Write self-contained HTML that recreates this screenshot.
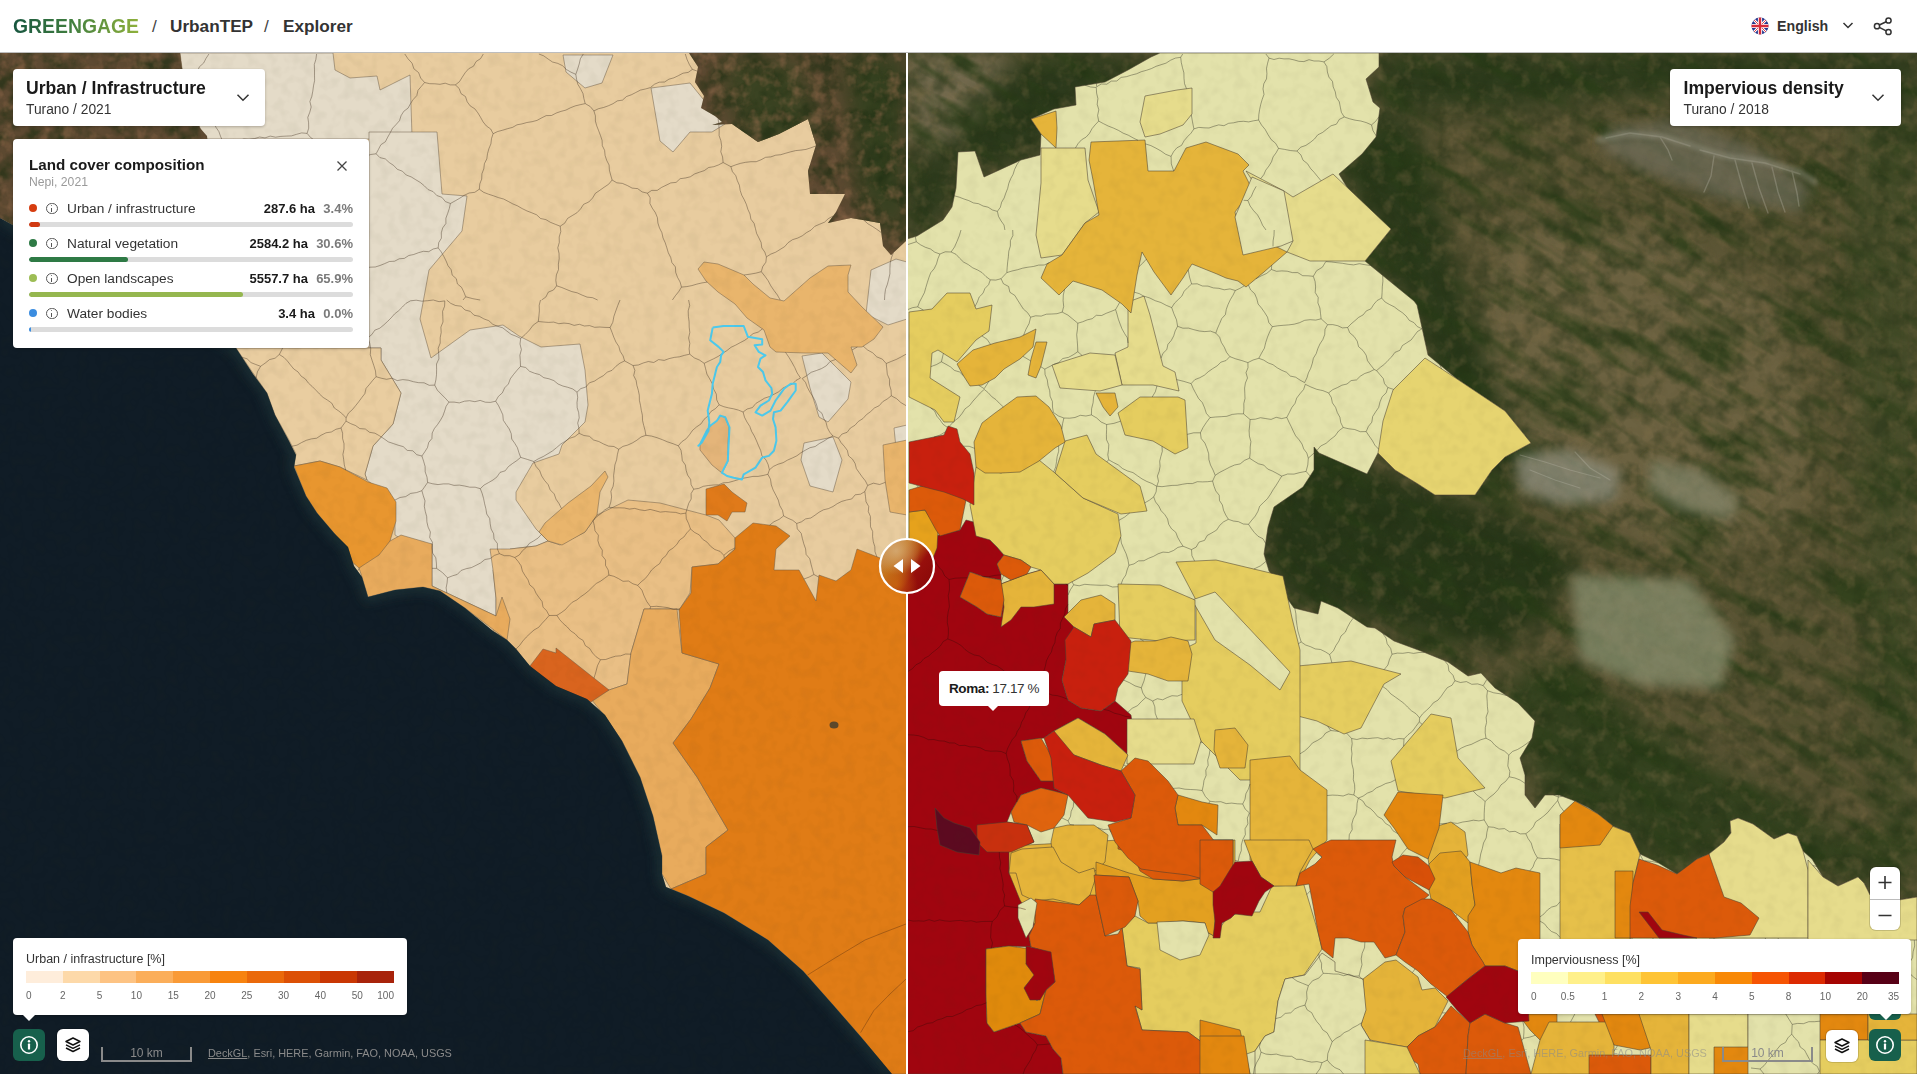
<!DOCTYPE html>
<html><head><meta charset="utf-8"><title>GREENGAGE UrbanTEP Explorer</title>
<style>
*{box-sizing:border-box}
html,body{margin:0;padding:0}
body{width:1917px;height:1074px;overflow:hidden;position:relative;font-family:"Liberation Sans",Arial,sans-serif;color:#1d1d1d;background:#fff}
#map{position:absolute;left:0;top:0}
.hdr{position:absolute;left:0;top:0;width:1917px;height:53px;background:#fff;border-bottom:1px solid #bdbdbd}
.brand{position:absolute;top:16px;left:13px;font-size:19.4px;font-weight:700;letter-spacing:0;white-space:nowrap;line-height:20px}
.brand .g{background:linear-gradient(90deg,#17553f 0%,#3f7d3f 45%,#8fb13c 100%);-webkit-background-clip:text;background-clip:text;color:transparent}
.crumb{position:absolute;top:16px;font-size:17.2px;font-weight:700;color:#333;line-height:20px;white-space:nowrap}
.card{position:absolute;background:#fff;border-radius:4px;box-shadow:0 1px 3px rgba(0,0,0,.25)}
.ttl{position:absolute;font-weight:700;white-space:nowrap;color:#1a1a1a}
.sub{position:absolute;white-space:nowrap;color:#333}
.chev{position:absolute}

.row{position:absolute;left:0;width:356px;height:35px}
.row .dot{position:absolute;left:16px;top:7px;width:8px;height:8px;border-radius:50%}
.row .inf{position:absolute;left:33px;top:5.5px;width:11.5px;height:11.5px;border:1.1px solid #555;border-radius:50%}
.row .inf:before{content:"";position:absolute;left:4.1px;top:1.6px;width:1.3px;height:1.3px;background:#555;border-radius:50%}
.row .inf:after{content:"";position:absolute;left:4.1px;top:4px;width:1.3px;height:4px;background:#555}
.row .lbl{position:absolute;left:54px;top:4px;font-size:13.7px;color:#333;white-space:nowrap}
.row .val{position:absolute;top:4px;font-size:13px;font-weight:700;color:#1a1a1a;white-space:nowrap}
.row .pct{position:absolute;right:16px;top:4px;font-size:13px;font-weight:700;color:#7a7a7a;white-space:nowrap}
.row .bar{position:absolute;left:16px;top:25px;width:324px;height:4.5px;border-radius:3px;background:#dcdcdc;overflow:hidden}
.row .bar b{position:absolute;left:0;top:0;height:100%;border-radius:3px}
.legend .lt{position:absolute;left:13px;top:14px;font-size:12.5px;color:#333;white-space:nowrap}
.legend .lbar{position:absolute;left:13px;top:33px;width:368px;height:12.4px;display:flex}
.legend .lbar i{flex:1;height:100%}
.legend .ll{position:absolute;left:13px;top:52px;width:368px;height:12px;font-size:10px;color:#666}
.legend .ll span{position:absolute;top:0;white-space:nowrap}
.tail{position:absolute;width:0;height:0;border-left:7px solid transparent;border-right:7px solid transparent;border-top:7px solid #fff}
.btn{position:absolute;width:32px;height:32px;border-radius:6px}
.btn svg{position:absolute;left:0;top:0}
.btn.green{background:#17604c}
.btn.white{background:#fff;box-shadow:0 0 0 1px rgba(0,0,0,.12)}
.zoom{position:absolute;width:30px;height:63px;background:#fff;border-radius:6px;box-shadow:0 0 0 1px rgba(0,0,0,.15);overflow:hidden}
.zoom .zb{position:relative;width:30px;height:31.5px}
.scale{position:absolute;height:15px;border:2px solid #8a8a8a;border-top:none}
.scale span{position:absolute;left:0;right:0;top:0;text-align:center;font-size:12px;color:#8a8a8a;line-height:13px}
.attr{position:absolute;font-size:10.9px;color:#8a8a8a;white-space:nowrap;line-height:13px}
.handle{position:absolute;left:878px;top:537px;width:58px;height:58px}
.tip{position:absolute;width:110px;height:34.5px;background:#fff;border-radius:4px;font-size:13.5px;color:#333;padding:9.5px 0 0 10px;letter-spacing:-0.4px;white-space:nowrap}
.tip b{color:#1a1a1a}
.tip:after{content:"";position:absolute;left:48px;top:34px;border-left:6px solid transparent;border-right:6px solid transparent;border-top:6px solid #fff}
</style></head>
<body>
<svg id="map" width="1917" height="1074" viewBox="0 0 1917 1074">
<defs>
 <filter id="mottD" x="0" y="0" width="1" height="1" color-interpolation-filters="sRGB">
  <feTurbulence type="fractalNoise" baseFrequency="0.055" numOctaves="3" seed="11"/>
  <feColorMatrix type="matrix" values="0 0 0 0 0.13  0 0 0 0 0.19  0 0 0 0 0.08  2.6 0 0 0 -1.05"/>
 </filter>
 <filter id="mottL" x="0" y="0" width="1" height="1" color-interpolation-filters="sRGB">
  <feTurbulence type="fractalNoise" baseFrequency="0.07" numOctaves="3" seed="29"/>
  <feColorMatrix type="matrix" values="0 0 0 0 0.50  0 0 0 0 0.43  0 0 0 0 0.28  2.6 0 0 0 -1.3"/>
 </filter>
 <filter id="blur12" x="-20%" y="-20%" width="140%" height="140%" color-interpolation-filters="sRGB"><feGaussianBlur stdDeviation="12"/></filter>
 <filter id="blur6" x="-20%" y="-20%" width="140%" height="140%"><feGaussianBlur stdDeviation="6"/></filter>

 <clipPath id="cl"><rect x="0" y="53" width="907" height="1021"/></clipPath>
 <clipPath id="cr"><rect x="907" y="53" width="1010" height="1021"/></clipPath>

 <filter id="streak" x="0" y="0" width="1" height="1" color-interpolation-filters="sRGB">
  <feTurbulence type="fractalNoise" baseFrequency="0.012 0.05" numOctaves="3" seed="4"/>
  <feColorMatrix type="matrix" values="0 0 0 0 0.16  0 0 0 0 0.24  0 0 0 0 0.09  3.2 0 0 0 -1.45"/>
 </filter>
 <filter id="rock" x="-30%" y="-30%" width="160%" height="160%" color-interpolation-filters="sRGB">
  <feTurbulence type="fractalNoise" baseFrequency="0.09" numOctaves="2" seed="9" result="n"/>
  <feColorMatrix in="n" type="matrix" values="0 0 0 0 0.80  0 0 0 0 0.79  0 0 0 0 0.72  3 0 0 0 -1.2" result="c"/>
  <feComposite in="c" in2="SourceAlpha" operator="in" result="m"/>
  <feGaussianBlur in="m" stdDeviation="0.6"/>
 </filter>

 <filter id="blur2" x="-20%" y="-20%" width="140%" height="140%"><feGaussianBlur stdDeviation="2"/></filter>

 <filter id="blur07" x="-20%" y="-20%" width="140%" height="140%"><feGaussianBlur stdDeviation="0.7"/></filter>

 <filter id="grain" x="0" y="0" width="1" height="1" color-interpolation-filters="sRGB">
  <feTurbulence type="fractalNoise" baseFrequency="0.09" numOctaves="2" seed="3"/>
  <feColorMatrix type="matrix" values="0 0 0 0 0.25  0 0 0 0 0.22  0 0 0 0 0.12  2.2 0 0 0 -0.95"/>
 </filter>

 <filter id="mottB" x="0" y="0" width="1" height="1" color-interpolation-filters="sRGB">
  <feTurbulence type="fractalNoise" baseFrequency="0.08" numOctaves="3" seed="41"/>
  <feColorMatrix type="matrix" values="0 0 0 0 0.58  0 0 0 0 0.42  0 0 0 0 0.30  2.6 0 0 0 -1.2"/>
 </filter>
</defs>
<g id="left" clip-path="url(#cl)">

 <rect x="0" y="53" width="907" height="1021" fill="#e8cc9f"/>
 <g stroke="#6b5a45" stroke-opacity="0.55" stroke-width="0.9" stroke-linejoin="round">
 <!-- light beige regions -->
 <polygon fill="#e4dbc8" points="180,53 333,53 335,70 350,78 377,76 380,90 410,75 412,136 369,139 205,139 200,128 182,68"/>
 <polygon fill="#e4dbc8" points="369,132 437,132 442,194 467,196 462,231 429,270 420,319 431,358 470,330 503,325 519,336 541,347 580,344 585,370 588,405 585,422 562,445 559,454 533,463 516,492 516,500 536,529 548,541 536,546 510,549 493,570 496,598 496,616 432,586 432,544 418,549 395,535 395,502 367,480 365,474 373,446 393,424 401,393 381,360 381,348 369,348"/>
 <polygon fill="#e4dbc8" points="563,55 613,55 602,83 585,88 566,72"/>
 <polygon fill="#e4dbc8" points="651,88 690,83 712,110 725,124 712,132 690,132 673,152 660,141"/>
 <polygon fill="#e4dbc8" points="802,356 822,353 851,382 848,399 828,422 819,417 810,388"/>
 <polygon fill="#e4dbc8" points="804,443 833,437 842,460 833,492 810,486 801,460"/>
 <polygon fill="#e4dbc8" points="871,270 896,259 907,262 907,319 888,325 866,314"/>
 <polygon fill="#e4dbc8" points="894,428 907,425 907,452 896,448"/>
 <!-- medium tan -->
 <polygon fill="#e9bf85" points="490,549 510,549 536,546 548,541 560,545 585,532 597,515 628,500 660,503 706,515 719,520 735,538 735,549 718,564 692,567 690,593 679,610 677,609 644,609 631,653 627,684 609,690 591,699 587,699 556,686 529,666 516,649 507,640 493,631 496,616 496,598 493,570"/>
 <polygon fill="#e9cda0" points="236,348 381,348 381,360 401,393 393,424 373,446 365,474 367,480 340,467 320,461 294,466 296,454 289,440 275,415 267,393 253,373"/>
 <!-- medium orange-tan -->
 <polygon fill="#e9b56c" points="698,269 704,262 718,264 744,275 753,284 770,298 784,301 810,278 828,266 851,265 848,275 848,292 862,307 883,327 874,339 862,347 851,347 857,365 851,373 828,353 805,353 776,352 770,347 764,330 747,318 735,304 718,292 706,281"/>
 <polygon fill="#e9b56c" points="545,523 568,503 591,486 605,471 608,477 600,492 597,515 585,532 562,545 548,541 539,532"/>
 <polygon fill="#e9b56c" points="883,445 907,440 907,515 890,512 885,480"/>
 <polygon fill="#e8ab5d" points="644,609 677,609 682,653 719,664 710,688 691,719 673,743 697,777 728,830 706,847 706,874 671,889 662,874 662,856 653,816 640,777 622,741 604,715 591,699 609,690 627,684 631,653"/>
 <polygon fill="#e8ab5d" points="359,568 390,541 401,535 432,544 432,586 496,616 502,597 510,619 507,640 465,608 440,591 423,587 395,590 368,597 362,577"/>
 <!-- orange -->
 <polygon fill="#e8962f" points="294,466 320,461 340,467 368,482 387,488 396,502 396,521 390,541 379,555 359,568 351,561 334,533 317,513 306,496"/>
 <polygon fill="#e07a1a" points="706,489 724,484 732,492 747,503 745,512 732,512 727,521 718,515 706,515"/>
 <polygon fill="#d9641e" points="530,666 543,649 556,653 556,648 609,690 591,702 569,695 532,671"/>
 <polygon fill="#e07c16" points="679,610 691,593 692,567 718,564 735,549 735,538 753,523 776,526 790,536 776,549 774,570 799,570 816,601 819,575 836,581 851,570 857,549 888,561 907,558 907,1074 891,1074 861,1037 834,1006 803,971 768,940 724,913 688,896 671,889 706,874 706,847 728,830 697,777 673,743 691,719 710,688 719,664 682,653"/>
 <polygon fill="#e4b57a" points="700,444 710,426 717,421 720,416 725,417 729,427 728,444 728,461 722,473 712,465 700,450"/>
 </g>
 <ellipse cx="834" cy="725" rx="4.5" ry="3.5" fill="#3a3a30" opacity="0.8"/>
 <!-- satellite patches -->
 <clipPath id="lsc"><polygon points="0,53 180,53 182,68 190,100 200,128 207,136 215,200 225,280 236,348 0,218"/><polygon points="689,53 698,67 695,82 704,96 701,108 715,116 722,122 712,125 732,124 758,142 779,134 808,119 816,145 808,171 810,194 845,194 836,212 828,223 851,218 880,223 883,246 891,255 906,241 907,240 907,53"/></clipPath>
 <g clip-path="url(#lsc)">
  <rect x="0" y="53" width="907" height="300" fill="#5e4a32"/>
  <g filter="url(#blur12)">
   <polygon fill="#34401f" points="840,53 907,53 907,250 860,200 850,120"/>
   <polygon fill="#3a4322" points="720,60 800,60 820,140 760,150 730,110"/>
  </g>
  <rect x="0" y="53" width="907" height="300" filter="url(#mottD)" opacity="0.7"/>
  <rect x="0" y="53" width="907" height="300" filter="url(#mottB)" opacity="0.55"/>
 </g>
 <!-- sea -->
 <polygon fill="#101c26" points="0,218 236,348 253,374 267,393 275,415 289,441 296,455 294,467 306,496 317,513 334,533 348,547 354,566 362,577 368,597 395,590 423,587 440,591 465,608 493,631 507,640 516,649 530,666 556,686 587,699 605,715 622,741 640,777 653,816 662,856 662,874 666,887 688,896 724,913 768,940 803,971 834,1006 861,1037 892,1074 0,1074"/>
 <clipPath id="seac"><polygon points="0,218 236,348 253,374 267,393 275,415 289,441 296,455 294,467 306,496 317,513 334,533 348,547 354,566 362,577 368,597 395,590 423,587 440,591 465,608 493,631 507,640 516,649 530,666 556,686 587,699 605,715 622,741 640,777 653,816 662,856 662,874 666,887 688,896 724,913 768,940 803,971 834,1006 861,1037 892,1074 0,1074"/></clipPath>
 <g clip-path="url(#seac)"><polyline points="0,218 236,348 253,374 267,393 275,415 289,441 296,455 294,467 306,496 317,513 334,533 348,547 354,566 362,577 368,597 395,590 423,587 440,591 465,608 493,631 507,640 516,649 530,666 556,686 587,699 605,715 622,741 640,777 653,816 662,856 662,874 666,887 688,896 724,913 768,940 803,971 834,1006 861,1037 892,1074" fill="none" stroke="#2b4a47" stroke-width="9" opacity="0.55" filter="url(#blur6)"/></g>
 <path d="M692.4 69.4 L688.2 72.4 L683.0 73.2 L678.5 75.6 L673.9 77.8 L668.9 79.2 L664.6 82.0 L659.2 82.2 L654.5 84.2 L650.4 87.6 L645.4 89.0 L640.4 90.1 L635.8 92.5 L631.3 94.8 L626.5 96.5 L622.5 100.1 L617.3 100.9 L613.0 103.7 L608.3 105.8 L603.5 107.5 L598.5 108.7 L593.9 110.9 M692.4 69.4 L689.4 64.6 L687.0 59.4 L685.3 54.0 M583.3 54.0 L580.4 58.7 L579.2 64.0 L577.6 69.2 L575.8 74.3 M575.8 74.3 L576.6 79.4 L577.9 84.4 L580.6 88.9 L583.0 93.6 L583.9 98.6 L585.2 103.6 M593.9 110.9 L590.2 106.5 L585.2 103.6 M538.9 54.0 L543.8 55.9 L548.2 59.1 L552.5 62.0 L557.8 63.4 L562.5 65.7 L566.4 69.5 L571.0 72.2 L575.8 74.3 M761.3 271.7 L764.9 276.2 L768.2 280.8 L770.8 285.8 L774.0 290.5 L777.4 295.0 L780.2 300.0 M761.3 271.7 L755.7 273.2 L749.9 274.2 L744.0 275.0 M707.2 282.1 L702.0 282.9 L696.9 284.1 L691.9 285.6 L686.7 286.6 L681.5 287.1 M681.5 287.1 L678.7 291.6 L675.4 295.7 L672.4 300.0 M881.2 232.5 L876.9 229.4 L872.5 226.5 L867.9 223.8 L863.9 220.2 M893.3 252.8 L891.4 257.9 L890.2 263.1 L889.9 268.5 L889.9 273.9 L888.7 279.1 L887.4 284.3 L885.5 289.3 L884.8 294.6 L884.5 300.0 M761.3 271.7 L762.7 266.7 L765.9 262.2 L766.4 256.9 M766.4 256.9 L770.8 254.1 L775.7 252.2 L780.2 249.4 L784.6 246.7 L788.2 242.6 L792.5 239.7 L797.6 238.1 L802.3 235.8 L806.5 232.6 L811.0 230.1 L814.8 226.3 L819.7 224.2 L824.5 222.2 L828.4 218.6 L833.0 216.1 M226.3 287.9 L229.3 282.9 L231.2 277.5 L231.6 271.5 L235.4 266.7 L236.8 261.1 L238.7 255.7 M238.7 255.7 L235.8 251.2 L233.9 246.3 L232.6 241.1 L231.0 236.1 L229.3 231.1 L227.3 226.2 L224.1 221.8 L223.3 216.5 L221.7 211.4 L217.6 207.4 L217.1 201.9 L214.7 197.2 M230.5 300.0 L229.4 294.0 L226.4 288.7 M612.1 180.0 L616.8 182.8 L622.4 183.4 L627.3 185.5 L632.1 188.1 L637.6 188.6 L642.1 191.9 L647.4 193.2 M612.1 180.0 L610.7 175.1 L609.4 170.2 L609.1 165.0 L606.7 160.4 L605.1 155.5 L604.6 150.3 L602.3 145.7 L602.1 140.4 L600.5 135.6 L598.7 130.8 L596.8 126.0 L595.4 121.1 L595.4 115.8 L593.9 110.9 M647.4 193.2 L651.7 190.4 L657.2 190.4 L661.6 187.4 L666.2 185.2 L670.8 182.9 L676.1 182.4 L680.1 178.7 L685.3 178.0 L690.3 176.8 L694.7 173.9 L699.5 172.2 L704.3 170.6 L708.6 167.5 L713.8 166.7 L718.6 164.9 L723.1 162.5 M692.4 69.4 L697.2 71.1 M723.1 162.5 L722.6 157.0 L720.8 151.8 L721.7 146.2 L720.9 140.8 L719.1 135.6 L719.2 130.1 L718.8 124.7 M718.6 123.0 L718.1 118.7 M647.4 193.2 L650.2 197.8 L649.9 203.5 L652.3 208.2 L655.4 212.7 L657.4 217.6 L657.9 223.0 L659.5 228.0 L661.9 232.7 L663.0 237.9 L665.2 242.7 L666.8 247.7 L668.3 252.8 L670.7 257.4 L671.9 262.6 L675.4 266.9 L675.7 272.4 L677.5 277.3 L680.1 282.0 L681.5 287.1 M766.4 256.9 L764.8 252.1 L761.8 247.8 L761.1 242.5 L758.9 237.9 L756.6 233.4 L755.4 228.4 L754.1 223.4 L750.9 219.2 L750.0 214.0 L747.9 209.4 L746.4 204.5 L744.3 199.8 L741.8 195.3 L740.2 190.5 L739.4 185.3 L737.3 180.6 L735.8 175.7 L732.4 171.6 L730.9 166.7 M723.1 162.5 L730.9 166.7 M730.9 166.7 L735.8 164.8 L740.7 163.3 L745.7 162.3 L750.9 161.7 L756.2 161.7 L761.0 159.8 L765.6 157.3 L770.8 156.9 L775.7 155.2 L780.8 154.7 L785.8 153.2 L790.7 151.8 L795.7 150.6 L800.9 150.1 L806.0 149.4 L810.9 147.8 L815.7 146.0 M326.0 231.5 L327.3 226.5 L327.4 221.2 L329.4 216.3 L330.0 211.1 L329.7 205.8 L331.0 200.7 L332.5 195.7 L333.1 190.5 L333.4 185.3 L333.9 180.0 L335.0 175.0 L335.7 169.8 L338.4 165.0 L338.6 159.7 M326.0 231.5 L321.2 233.2 L316.2 233.8 L311.3 235.0 L306.4 236.2 L301.8 238.6 L296.9 239.7 L292.2 241.3 L287.3 242.6 L282.3 243.5 L277.6 245.3 L272.5 245.6 L268.0 248.4 L262.6 247.9 L257.9 249.6 L253.2 251.5 L248.6 253.9 L243.7 254.9 L238.7 255.7 M338.6 159.7 L334.3 156.9 L330.5 153.4 L326.1 150.7 L323.3 146.0 L319.5 142.5 L314.6 140.4 L310.5 137.4 L307.1 133.4 M210.6 164.9 L212.0 159.7 L214.8 155.2 L218.4 151.1 L221.0 146.6 L222.8 141.5 M307.1 133.4 L301.7 132.9 L296.6 134.3 L291.4 135.9 L286.1 136.1 L280.8 136.4 L275.6 137.2 L270.2 136.1 L265.0 137.9 L259.6 137.0 L254.5 138.6 L249.2 139.3 L243.9 138.9 L238.7 140.7 L233.3 139.5 L228.2 142.1 L222.8 141.5 M184.7 79.0 L191.2 80.2 M222.8 141.5 L220.7 136.7 L218.9 131.6 L215.9 127.2 L213.7 122.4 L210.5 118.1 L208.2 113.3 L205.6 108.6 L204.0 103.5 L201.5 98.8 L198.0 94.6 L195.9 89.7 L193.6 85.0 L191.2 80.2 M483.3 54.0 L480.6 58.6 L476.1 61.5 L473.5 66.2 L468.6 68.8 L465.2 72.7 L462.3 77.1 L459.5 81.6 L455.4 84.9 M585.2 103.6 L580.2 104.7 L575.2 105.9 L570.4 107.8 L565.9 110.1 L560.9 111.4 L556.1 113.1 L551.5 115.5 L546.2 115.6 L541.6 117.9 L537.0 120.4 L532.1 121.7 L526.9 122.5 L522.0 123.9 L517.0 124.8 L512.5 127.4 L507.5 128.7 L502.7 130.2 L497.7 131.5 L493.1 133.7 M455.4 84.9 L459.2 88.5 L461.0 93.6 L465.5 96.6 L467.2 101.8 L470.2 105.9 L474.8 108.8 L477.9 112.9 L480.6 117.4 L483.1 121.9 L486.3 125.9 L490.7 129.0 L493.1 133.7 M404.8 54.0 L408.0 58.8 L412.0 63.1 L413.9 68.8 L418.6 72.6 L420.7 78.1 L424.6 82.5 M455.4 84.9 L450.2 84.9 L445.2 83.2 L440.0 84.3 L434.8 83.8 L429.7 83.7 L424.6 82.5 M338.6 159.7 L344.0 158.8 L349.4 158.7 L354.6 156.8 L359.8 155.3 L365.5 156.5 L370.7 154.5 L376.1 153.8 M316.6 54.0 L315.9 59.3 L314.3 64.5 L314.5 69.8 L314.5 75.2 L314.6 80.6 L313.5 85.8 L312.8 91.1 L311.8 96.4 L309.9 101.5 L311.2 107.0 L309.8 112.2 L307.8 117.4 L308.6 122.8 L308.7 128.2 L307.1 133.4 M424.6 82.5 L421.3 86.4 L418.0 90.3 L416.8 95.6 L413.3 99.4 L410.5 103.6 L408.1 108.1 L403.8 111.3 L401.1 115.6 L399.5 120.7 L396.1 124.5 L392.6 128.2 L390.2 132.8 L387.7 137.2 L385.4 141.7 L380.8 144.8 L378.5 149.3 L376.1 153.8 M326.0 231.5 L328.5 236.6 L332.2 240.7 L335.4 245.1 L338.9 249.4 L342.6 253.6 L345.7 258.1 L349.6 262.1 L352.8 266.6 L355.4 271.5 M355.4 271.5 L355.8 277.3 L353.2 282.8 L353.9 288.6 L353.7 294.4 L352.3 300.0 M191.2 80.2 L194.2 75.9 L197.2 71.6 L199.5 66.7 L203.6 63.1 L206.0 58.4 L208.9 54.0 M465.7 296.8 L463.8 292.0 L461.6 287.4 L457.4 283.9 L456.3 278.7 L452.2 275.1 L451.2 269.8 L448.0 265.7 L446.1 261.0 L443.8 256.4 L441.3 252.0 L438.2 247.9 M465.7 296.8 L472.9 298.7 L480.2 300.0 M560.2 226.2 L560.8 231.6 L559.2 237.0 L559.3 242.4 L557.8 247.8 L559.0 253.3 L559.2 258.7 L558.4 264.1 L558.5 269.6 L556.4 274.9 L555.8 280.3 L556.6 285.8 M560.2 226.2 L555.3 224.3 L550.4 222.3 L545.9 219.6 L540.6 218.5 L536.6 214.8 L531.8 212.8 L526.9 210.9 L522.2 208.6 L517.6 205.9 L512.8 203.9 L508.2 201.4 L503.6 199.0 L498.4 197.6 L493.5 195.8 L488.5 194.2 L483.6 192.3 L479.3 189.2 M438.2 247.9 L438.7 242.7 L441.4 238.2 L441.3 232.8 L442.7 227.9 L445.9 223.5 L445.9 218.2 L447.7 213.4 L449.3 208.5 L450.4 203.5 M556.6 285.8 L553.5 290.0 L548.3 292.1 L545.9 297.0 L541.6 300.0 M479.3 189.2 L474.8 192.3 L469.1 193.0 L464.3 195.3 L459.8 198.2 L455.1 200.9 L450.4 203.5 M355.4 271.5 L360.0 269.2 L365.0 268.2 L370.0 267.2 L375.2 267.0 L380.0 265.5 L384.7 263.6 L389.4 261.5 L394.6 261.2 L399.2 258.8 L404.3 258.4 L408.8 255.5 L413.7 254.5 L418.5 252.7 L423.4 251.3 L428.7 251.7 L433.2 249.0 L438.2 247.9 M463.0 300.0 L465.7 296.8 M612.1 180.0 L608.7 184.2 L604.2 187.2 L599.8 190.3 L595.4 193.3 L592.5 198.1 L588.8 202.0 L583.6 204.3 L580.6 208.9 L576.9 212.8 L572.2 215.6 L567.6 218.4 L564.7 223.2 L560.2 226.2 M597.6 300.0 L592.6 297.7 L587.1 297.1 L582.1 295.1 L577.1 292.8 L571.8 291.6 L566.8 289.6 L561.8 287.5 L556.6 285.8 M493.1 133.7 L491.5 138.6 L490.9 143.9 L488.9 148.7 L487.5 153.7 L486.8 158.9 L484.4 163.7 L483.8 168.9 L481.9 173.8 L481.7 179.1 L479.8 183.9 L479.3 189.2 M376.1 153.8 L379.9 157.6 L385.3 158.9 L389.2 162.5 L393.6 165.4 L397.3 169.3 L402.4 171.2 L406.2 175.0 L411.2 176.9 L415.7 179.7 L420.2 182.4 L424.3 185.8 L428.1 189.6 L433.1 191.6 L436.8 195.5 L441.9 197.3 L445.4 201.6 L450.4 203.5 M444.8 300.9 L444.6 306.2 L442.6 311.3 L442.8 316.7 L443.0 322.0 L440.9 327.1 L441.2 332.5 L440.2 337.7 L440.2 343.1 L438.2 348.2 L438.7 353.6 L438.9 358.9 L436.5 364.0 L436.6 369.3 L436.5 374.7 L435.9 379.9 L434.7 385.1 M444.8 300.9 L439.0 301.7 L433.3 300.0 L427.6 300.7 L421.9 301.2 L416.2 300.2 L410.5 300.8 M410.5 300.8 L405.9 303.4 L402.3 307.1 L398.7 310.7 L394.6 313.9 L391.2 317.8 L387.6 321.4 L383.8 324.9 L379.8 328.2 L374.8 330.2 L371.8 334.6 L367.8 337.8 M367.8 337.8 L369.7 343.2 L370.7 348.8 L370.3 354.7 L372.0 360.1 L373.8 365.5 L375.5 371.0 L376.0 376.7 M376.0 376.7 L381.2 378.2 L386.5 379.3 L392.1 378.2 L397.2 380.6 L402.8 379.6 L408.2 380.2 L413.4 381.7 L418.7 382.7 L424.1 382.8 L429.2 385.3 L434.7 385.1 M446.7 300.0 L450.8 303.4 L455.5 305.5 L461.1 306.2 L465.0 310.0 L470.2 311.3 L474.0 315.2 L479.3 316.3 L483.9 318.9 L488.8 320.7 L492.8 324.3 L497.6 326.3 L502.7 327.8 L506.9 331.1 L511.1 334.3 L516.0 336.2 L520.7 338.4 M520.7 338.4 L520.0 344.0 L521.4 349.6 L519.9 355.2 L520.3 360.8 L520.5 366.4 M434.7 385.1 L437.3 390.1 L441.2 394.1 L445.1 398.0 L448.9 402.1 M448.9 402.1 L454.1 402.1 L459.3 402.9 L464.5 401.2 L469.7 400.7 L474.9 401.7 L480.1 400.4 L485.3 402.2 L490.5 402.4 L495.7 401.2 M495.7 401.2 L498.3 396.5 L502.4 392.8 L504.6 387.9 L508.4 384.0 L510.3 378.8 L513.5 374.5 L516.9 370.4 L520.5 366.4 M520.7 338.4 L525.3 334.4 L529.5 330.0 L533.2 325.1 L538.3 321.5 M540.5 300.0 L539.2 305.3 L539.4 310.8 L538.9 316.1 L538.3 321.5 M421.9 456.0 L424.8 451.8 L427.5 447.5 L428.7 442.5 L431.9 438.5 L432.2 433.0 L434.4 428.5 L437.6 424.5 L440.4 420.3 L442.9 415.9 L444.6 411.1 L446.1 406.3 L448.9 402.1 M421.9 456.0 L416.8 454.7 L412.8 450.8 L407.2 450.4 L403.2 446.6 L398.1 445.2 L393.2 443.5 L388.2 441.8 L383.9 438.7 L379.5 435.8 L374.9 433.2 L369.6 432.3 L365.3 429.0 L359.8 428.6 L355.5 425.5 L350.6 423.6 L346.0 421.1 M376.0 376.7 L372.6 380.5 L369.4 384.5 L366.1 388.3 L364.8 393.7 L361.7 397.7 L358.7 401.8 L355.5 405.8 L352.3 409.7 L348.4 413.2 L346.1 417.8 M346.0 421.1 L346.1 417.8 M549.1 615.5 L545.7 619.5 L542.1 623.3 L538.7 627.3 L534.0 630.0 L530.1 633.5 L526.3 637.1 L522.8 641.0 L519.7 645.3 L516.0 649.0 M549.1 615.5 L556.9 615.4 M594.0 678.1 L595.9 671.9 L597.5 665.6 L600.5 659.7 M600.5 659.7 L596.1 656.8 L592.6 653.0 L589.7 648.5 L585.3 645.6 L583.2 640.5 L578.6 637.7 L575.1 633.8 L570.7 630.9 L567.3 627.0 L563.3 623.6 L559.8 619.8 L556.9 615.4 M600.5 659.7 L605.7 659.5 L610.6 657.7 L615.5 656.2 L620.7 655.8 L625.6 654.0 L630.8 654.2 M480.3 488.7 L482.2 493.6 L483.6 498.6 L484.6 503.7 L485.9 508.8 L486.7 514.0 L489.7 518.5 L490.2 523.8 L491.1 529.0 L493.6 533.7 L494.0 539.0 L497.4 543.5 L497.4 548.9 L499.4 553.7 M480.3 488.7 L484.0 485.1 L488.5 482.6 L493.0 480.0 L497.0 476.9 L500.0 472.4 L505.2 470.8 L508.4 466.6 L512.5 463.5 L516.8 460.6 L520.7 457.4 M520.7 457.4 L527.3 459.4 L533.8 461.5 M533.8 461.5 L536.1 466.5 L539.7 470.7 L541.6 475.9 L544.6 480.5 L548.2 484.7 L550.2 489.9 L554.2 493.9 L556.0 499.2 L559.1 503.7 L561.5 508.7 M541.4 534.4 L538.0 538.1 L533.7 540.9 L529.3 543.4 L526.2 547.5 L522.4 550.8 L519.3 555.0 L514.8 557.5 M514.8 557.5 L509.8 555.7 L504.4 555.7 L499.4 553.7 M427.6 482.5 L432.8 483.8 L438.0 484.6 L443.4 483.9 L448.8 483.9 L454.0 485.4 L459.3 485.1 L464.6 486.0 L469.8 487.2 L475.1 487.2 L480.3 488.7 M427.6 482.5 L427.0 477.1 L425.2 471.9 L425.1 466.4 L423.6 461.2 L421.9 456.0 M495.7 401.2 L498.5 405.6 L500.7 410.2 L502.8 414.8 L503.3 420.3 L506.2 424.6 L509.2 428.9 L511.2 433.6 L511.7 439.0 L514.7 443.2 L517.4 447.7 L518.9 452.6 L520.7 457.4 M520.5 366.4 L525.7 367.5 L529.6 371.3 L534.4 373.2 L539.5 374.6 L543.8 377.7 L549.0 378.8 L553.9 380.6 L558.0 384.0 L562.8 386.0 L567.8 387.3 L572.8 389.0 L577.0 392.2 M577.0 392.2 L577.7 397.3 L577.0 402.5 L577.2 407.7 L578.7 412.7 L579.2 417.9 L577.7 423.1 L578.9 428.2 L579.1 433.3 M579.1 433.3 L574.9 436.6 L569.6 438.3 L565.2 441.3 L560.7 444.1 L556.6 447.6 L552.4 451.0 L547.8 453.8 L543.3 456.5 L538.4 458.8 L533.8 461.5 M618.7 449.3 L617.4 454.5 L616.6 459.8 L614.9 464.9 L614.3 470.3 L613.6 475.6 L613.9 481.0 L613.1 486.3 L610.9 491.3 L611.6 496.9 L610.8 502.1 L609.1 507.3 M618.7 449.3 L614.0 446.5 L608.5 446.1 L603.6 444.0 L598.8 441.5 L593.6 440.0 L589.4 436.3 L583.9 435.5 L579.1 433.3 M593.1 520.6 L596.7 516.7 L600.9 513.7 L604.6 510.0 L609.1 507.3 M549.1 615.5 L546.7 610.9 L543.0 607.1 L542.1 601.6 L538.9 597.4 L536.0 593.2 L533.9 588.4 L529.7 584.8 L528.0 579.8 L525.0 575.5 L522.4 571.1 L521.1 565.8 L518.2 561.5 L514.8 557.5 M593.1 520.6 L594.3 525.6 L595.0 530.8 L598.4 535.2 L597.9 540.7 L599.4 545.6 L602.3 550.2 L602.1 555.6 L605.6 560.0 L605.5 565.4 L608.2 570.0 L608.9 575.1 M556.9 615.4 L561.2 612.7 L565.3 609.7 L568.7 605.8 L572.3 602.2 L576.9 599.9 L580.8 596.7 L585.0 593.8 L588.9 590.6 L592.5 587.0 L596.2 583.5 L600.7 581.1 L604.8 578.1 L608.9 575.1 M446.9 593.0 L446.1 587.9 L447.1 582.9 L447.5 577.8 M447.5 577.8 L452.3 575.9 L457.3 574.4 L461.2 570.4 L466.2 568.7 L471.4 567.6 L476.1 565.3 L480.7 562.9 L484.9 559.5 L490.2 558.6 L494.4 555.4 L499.4 553.7 M436.6 568.4 L436.4 563.1 L435.8 557.8 L432.6 553.1 L432.2 547.8 L432.5 542.4 L429.7 537.5 L430.4 532.0 L428.1 527.1 L426.9 521.9 L426.7 516.6 L425.3 511.5 L424.3 506.3 L425.0 500.9 L423.3 495.8 L421.9 490.7 M436.6 568.4 L432.0 568.3 M421.9 490.7 L416.5 492.6 L410.7 493.4 L405.7 496.6 L400.0 497.5 L394.8 500.1 M447.5 577.8 L442.5 572.6 L436.6 568.4 M427.6 482.5 L421.9 490.7 M357.6 571.0 L359.1 568.4 M538.3 321.5 L543.4 322.0 L548.5 322.4 L553.7 322.1 L558.8 323.7 L564.0 323.1 L569.1 323.6 L574.1 325.4 L579.4 324.3 L584.4 326.0 L589.6 325.6 L594.6 327.3 L599.8 327.0 L605.0 327.4 L610.1 327.5 M610.1 327.5 L612.8 322.3 L613.9 316.4 L615.8 310.9 L617.8 305.4 L620.0 300.0 M577.0 392.2 L580.8 388.6 L585.9 387.0 L589.4 382.8 L594.5 381.1 L598.8 378.2 L603.3 375.7 L607.2 372.2 L612.1 370.3 L615.8 366.4 L619.9 363.2 L624.6 360.9 M610.1 327.5 L612.0 332.3 L613.8 337.2 L615.9 342.0 L618.8 346.4 L620.2 351.4 L623.1 355.9 L624.6 360.9 M291.6 446.3 L296.9 445.2 L301.5 442.6 L306.3 440.3 L311.4 438.9 L316.7 438.2 L321.2 435.2 L326.0 432.8 L331.3 432.0 L335.9 429.3 L341.0 428.0 M341.0 428.0 L342.6 433.2 L342.6 438.5 L344.0 443.7 L344.0 449.0 L342.9 454.4 L343.7 459.7 L344.3 464.9 L345.7 470.1 M346.0 421.1 L341.0 428.0 M650.0 609.0 L650.5 606.7 M679.8 608.9 L673.8 609.6 L668.1 607.7 L662.2 606.9 L656.4 606.3 L650.5 606.7 M608.9 575.1 L613.9 576.3 L618.5 578.6 L623.0 581.3 L628.5 581.0 L632.9 583.8 L637.7 585.3 M637.7 585.3 L641.9 590.1 L644.1 596.0 L646.8 601.6 L650.5 606.7 M863.2 346.2 L867.6 350.0 L872.7 352.8 L876.8 356.9 L882.3 359.1 L886.2 363.5 M886.2 363.5 L891.3 361.4 L896.4 359.4 L901.2 356.9 L906.0 354.2 M802.2 378.5 L806.8 375.6 L811.2 372.3 L816.5 370.5 L821.7 368.5 L826.4 365.7 L830.2 361.4 L835.5 359.5 M852.0 350.0 L857.3 347.0 M800.5 378.0 L797.2 373.0 L794.8 367.6 L791.9 362.3 L788.9 357.3 L785.5 352.3 M891.3 395.8 L891.1 390.3 L889.5 385.0 L889.6 379.5 L887.3 374.3 L886.8 368.9 L886.2 363.5 M891.3 395.8 L896.5 398.6 L900.9 402.6 L906.0 405.6 M762.4 328.9 L758.2 332.1 L753.1 333.6 L749.1 337.0 L744.9 340.2 L740.3 342.6 L735.7 345.1 L731.0 347.3 L726.9 350.6 L722.5 353.4 L718.2 356.4 L713.6 358.8 L708.9 361.0 L704.2 363.3 M688.6 300.0 L689.7 305.4 L688.2 310.9 L688.4 316.3 L689.1 321.7 L689.2 327.1 L689.8 332.5 L688.6 338.0 L689.8 343.4 L689.1 348.8 L689.7 354.2 M704.2 363.3 L699.5 360.1 L694.2 357.8 L689.7 354.2 M624.6 360.9 L633.0 365.5 M689.7 354.2 L684.6 355.3 L679.5 356.8 L674.3 357.4 L669.1 358.6 L664.2 360.4 L658.6 359.6 L653.8 362.5 L648.3 361.5 L643.2 363.0 L638.3 365.0 L633.0 365.5 M618.7 449.3 L622.9 446.4 L627.9 445.0 L632.6 442.8 L636.9 440.2 L641.0 437.0 L645.9 435.3 M633.0 365.5 L634.9 370.3 L633.7 375.6 L636.1 380.4 L636.9 385.4 L638.3 390.3 L639.3 395.2 L639.4 400.4 L640.5 405.3 L641.3 410.3 L642.4 415.3 L642.5 420.4 L643.7 425.4 L645.0 430.3 L645.9 435.3 M346.1 417.8 L342.6 414.1 L338.6 410.9 L334.3 408.0 L331.8 403.2 L327.6 400.2 L323.1 397.4 L319.4 393.9 L315.9 390.2 L312.3 386.6 L308.5 383.2 L305.4 379.0 L301.1 376.1 L298.0 371.9 L293.8 369.0 L290.5 365.0 L287.3 360.9 L283.8 357.3 L279.3 354.5 M256.1 378.1 L257.4 371.8 L260.6 366.3 M279.3 354.5 L275.1 358.2 L269.5 359.6 L265.2 363.1 L260.6 366.3 M260.6 366.3 L255.8 364.5 L251.0 362.6 L247.1 358.8 L242.1 357.3 M609.1 507.3 L614.2 507.9 L619.3 507.8 L624.5 508.0 L629.5 509.1 L634.7 508.4 L639.8 509.8 L644.9 510.6 L650.1 509.4 L655.2 510.7 L660.2 512.1 L665.4 511.6 L670.5 512.1 L675.7 512.4 L680.7 513.9 L685.9 513.1 M637.7 585.3 L641.4 581.7 L645.4 578.4 L648.6 574.4 L651.5 570.1 L655.4 566.6 L659.7 563.6 L662.1 558.9 L666.1 555.5 L668.7 550.9 L673.1 548.0 L676.8 544.5 L679.6 540.0 L683.9 537.0 L686.9 532.8 L690.5 529.0 M685.9 513.1 L686.3 518.7 L688.7 523.8 L690.5 529.0 M324.3 320.0 L319.3 321.7 L314.6 323.7 L310.6 327.5 L305.4 328.6 L300.9 331.2 L296.1 333.1 L291.7 336.0 L287.0 338.1 M324.3 320.0 L324.4 314.9 L324.7 309.8 L327.6 305.2 L327.4 300.0 M287.0 338.1 L284.8 333.0 L280.8 328.9 L279.1 323.5 L276.7 318.5 L273.2 314.2 L270.4 309.5 L266.7 305.2 L264.7 300.0 M367.8 337.8 L362.5 336.8 L357.7 334.7 L353.3 331.7 L348.7 329.3 L343.9 327.3 L338.5 326.7 L333.7 324.6 L329.3 321.7 L324.3 320.0 M279.3 354.5 L282.1 349.1 L284.5 343.6 L287.0 338.1 M704.2 363.3 L705.6 368.7 L706.9 374.1 L709.7 378.9 L712.3 383.8 L713.7 389.2 L716.3 394.1 L716.7 399.8 L719.1 404.8 M645.9 435.3 L651.6 436.1 L657.0 437.7 L662.4 439.7 L667.6 441.9 L673.0 443.7 L678.3 445.8 M678.3 445.8 L681.7 441.8 L686.1 438.8 L689.5 434.7 L692.6 430.3 L696.6 426.9 L701.0 423.9 L704.0 419.4 L708.0 416.0 L710.9 411.5 L715.5 408.6 L719.1 404.8 M685.9 513.1 L687.2 508.2 L688.7 503.4 L691.2 499.0 L691.1 493.6 L693.7 489.2 M678.3 445.8 L681.0 450.3 L681.8 455.4 L682.3 460.6 L685.4 465.0 L686.1 470.2 L687.6 475.1 L690.6 479.4 L691.1 484.7 L693.7 489.2 M800.5 378.0 L796.0 380.4 L792.3 384.2 L787.3 385.9 L782.7 388.2 L778.8 391.7 L774.3 394.1 L769.7 396.5 L764.7 398.1 L760.3 400.8 L755.9 403.4 L752.4 407.6 L747.2 409.0 L743.1 412.0 M743.1 412.0 L738.4 410.1 L733.6 408.8 L728.6 407.9 L723.8 406.7 L719.1 404.8 M693.7 489.2 L698.7 488.4 L703.4 486.3 L708.4 485.5 L713.4 485.0 L718.5 484.8 L723.3 482.8 L728.4 482.5 L733.2 481.2 L738.1 479.7 L742.9 478.3 L747.9 477.4 L752.9 476.4 L758.0 476.4 L763.0 475.5 L767.9 474.3 M743.1 412.0 L744.5 417.2 L746.9 421.9 L749.8 426.4 L751.6 431.4 L754.3 436.0 L756.5 440.8 L758.5 445.7 L760.7 450.5 L761.9 455.8 L765.9 459.7 L768.1 464.5 L769.4 469.8 M769.4 469.8 L767.9 474.3 M802.2 378.5 L805.5 382.4 L807.3 387.2 L809.6 391.6 L812.3 395.8 L814.8 400.2 L816.6 404.9 L817.9 409.9 L822.0 413.4 L823.6 418.2 L826.1 422.5 L827.3 427.6 L829.6 432.0 L832.9 436.0 M769.4 469.8 L773.4 466.4 L778.1 464.2 L783.1 462.7 L787.5 460.1 L792.3 458.0 L796.9 455.8 L801.0 452.7 L805.5 450.1 L810.0 447.7 L815.2 446.5 L819.4 443.5 L823.9 441.1 L828.2 438.2 L832.9 436.0 M891.3 395.8 L887.2 399.0 L882.7 401.7 L879.2 405.7 L874.4 408.0 L870.6 411.6 L866.4 414.7 L862.9 418.6 L858.4 421.4 L854.9 425.3 L850.4 428.0 L847.1 432.3 L841.9 434.1 L838.5 438.2 M832.9 436.0 L838.5 438.2 M885.4 482.3 L879.7 484.5 L873.4 483.2 L867.7 485.4 M838.5 438.2 L841.0 442.6 L844.4 446.4 L847.4 450.5 L848.5 455.8 L852.5 459.2 L855.1 463.5 L856.4 468.7 L859.3 472.8 L862.2 476.9 L865.4 480.9 L867.7 485.4 M876.8 556.7 L875.0 551.8 L874.8 546.7 L873.3 541.8 L872.6 536.7 L872.7 531.5 L870.5 526.8 L870.4 521.6 L870.4 516.4 L868.3 511.6 L868.7 506.4 L866.0 501.7 L865.5 496.6 L864.8 491.6 M867.7 485.4 L864.8 491.6 M813.9 574.5 L812.4 569.3 L811.0 564.1 L809.8 558.8 L806.1 554.4 L805.6 548.9 L803.8 543.8 L802.4 538.6 L801.2 533.3 L797.3 528.9 L796.7 523.5 M813.9 574.5 L809.1 577.1 L803.9 579.0 M796.7 523.5 L792.7 520.3 L788.1 518.3 L783.6 515.9 M783.6 515.9 L779.1 519.4 L774.0 521.7 L769.6 525.2 M735.0 547.9 L729.0 551.0 L723.8 555.3 M724.4 558.3 L723.8 555.3 M818.8 577.1 L813.9 574.5 M864.8 491.6 L860.5 494.2 L855.2 494.8 L851.7 499.0 L846.6 500.0 L841.7 501.4 L837.2 503.7 L833.0 506.5 L828.5 508.6 L823.5 509.8 L819.1 512.2 L815.0 515.2 L810.8 518.0 L805.6 518.9 L801.5 521.8 L796.7 523.5 M767.9 474.3 L770.5 479.2 L771.3 484.9 L773.2 490.1 L775.8 495.1 L778.3 500.1 L779.7 505.5 L782.5 510.4 L783.6 515.9 M690.5 529.0 L694.5 532.4 L699.3 534.9 L702.7 539.3 L707.1 542.2 L710.6 546.3 L714.8 549.5 L720.1 551.4 L723.8 555.3" fill="none" stroke="#4a3a2a" stroke-opacity="0.55" stroke-width="0.8"/>
<path d="M807.6 975 L835 958 L865 940 L885 932 L906 924 M860.6 1032.6 L873.8 1010.6 L890 994 L906 979" fill="none" stroke="#5a3010" stroke-opacity="0.5" stroke-width="0.8"/>
 <!-- selected outline -->
 <polyline fill="none" stroke="#4cc9ec" stroke-width="2" stroke-linejoin="round" points="712.7,327.6 723.6,326 743.7,326 747.9,336.8 762.2,339.3 762.2,344.4 754.6,345.2 758.8,351.9 765.5,355.3 760.5,358.6 758,367 763,372 765.5,380.4 771.4,388 772.2,393.8 768.9,400.5 760.5,405.6 755.5,412.3 762.2,415.6 770.5,410.6 775.6,400.5 784,388.8 790.7,383.8 795.7,383.8 795.7,390.5 787.3,402.2 780.6,410.6 773.9,412.3 773,419 775.6,427.4 776.4,440.8 773.9,450.8 768.9,455.9 762.2,457.6 755.5,467.6 743.7,474.3 742,479.4 733.7,477.7 727,476 721.9,472.6 727.8,461 728.6,444.1 729.5,427.4 725.3,417.3 720.2,415.6 716.9,420.7 710.2,425.7 706.8,430.7 700.1,444.1 698.4,445.8 701.8,442.5 708.5,430.7 709.3,422.3 707.7,410.6 711.9,393.8 712.7,383.8 715.2,373.7 716.9,367 720.2,362 721.1,355.3 723.6,351.9 718.6,346.9 710.2,340.2 712.7,327.6"/>
</g>
<g id="right" clip-path="url(#cr)">
<rect x="907" y="53" width="1010" height="1021" fill="#5a5434"/>
 <g filter="url(#blur12)">
  <polygon fill="#2e3c1d" points="1379,53 1917,53 1917,115 1800,108 1700,95 1600,98 1500,112 1420,110 1380,108"/>
  <polygon fill="#2b3a1b" points="1340,170 1380,110 1420,130 1450,250 1480,330 1500,400 1540,440 1520,480 1470,480 1420,470 1400,440 1430,380 1417,305 1364,262 1391,229 1362,212"/>
  <polygon fill="#283719" points="1264,450 1320,450 1380,470 1460,500 1520,520 1580,560 1550,610 1500,650 1440,640 1370,620 1320,610 1290,600 1266,560"/>
  <polygon fill="#3c4a25" opacity="0.6" points="1850,110 1917,110 1917,880 1890,880 1870,700 1860,500 1850,300"/>
  <polygon fill="#34421f" points="1480,690 1560,660 1640,720 1720,770 1800,805 1860,850 1917,885 1870,885 1800,862 1740,838 1680,875 1640,852 1600,824 1545,798 1525,760 1530,720"/>
  <polygon fill="#3a4a22" opacity="0.7" points="1640,250 1700,270 1760,340 1820,420 1800,440 1740,380 1680,320"/>
  <polygon fill="#3a4a22" opacity="0.7" points="1560,330 1620,350 1700,430 1740,500 1710,510 1650,450 1590,390"/>
  <polygon fill="#6c6241" points="1500,220 1650,230 1780,300 1810,420 1800,520 1700,560 1600,520 1520,440 1480,330"/>
  <polygon fill="#736a4e" points="907,53 1010,53 1000,125 940,150 907,140"/>
  <polygon fill="#2c3a1c" points="1010,62 1100,53 1160,53 1075,105 1040,155 984,177 958,152 950,210 910,245 907,245 907,165 965,130"/>
 </g>
 <g transform="rotate(32 1400 560)"><rect x="700" y="-200" width="1500" height="1600" filter="url(#streak)" opacity="0.75"/></g>
 <rect x="907" y="53" width="1010" height="1021" filter="url(#mottD)" opacity="0.45"/>
 <rect x="907" y="53" width="1010" height="1021" filter="url(#mottL)" opacity="0.4"/>
 <g filter="url(#blur6)" opacity="0.75">
  <polygon fill="#6e6c58" points="1610,128 1680,120 1760,150 1810,188 1800,212 1720,198 1640,170 1600,148"/>
  <polygon fill="#8f8f7e" points="1516,455 1570,450 1620,470 1615,500 1560,505 1520,490"/>
  <polygon fill="#84866a" points="1650,460 1700,470 1740,500 1730,520 1680,510 1650,490"/>
  <polygon fill="#8a9070" points="1570,575 1690,580 1735,640 1720,688 1640,685 1580,660"/>
 </g>
 <g fill="none" stroke-linecap="round" opacity="0.45">
  <polyline points="1598,140 1625,134 1660,136 1690,145 1720,155 1760,161 1800,172 1815,182" stroke="#9a9886" stroke-width="6" filter="url(#blur2)"/>
  <g stroke="#cfccbe" stroke-width="1.4" filter="url(#blur07)" opacity="0.6">
   <polyline points="1606,138 1630,133 1662,137 1690,146"/>
   <polyline points="1700,150 1730,158 1765,163 1800,174"/>
   <polyline points="1735,160 1741,182 1749,208"/>
   <polyline points="1752,163 1759,188 1768,213"/>
   <polyline points="1772,167 1778,192 1785,212"/>
   <polyline points="1714,156 1711,176 1704,192"/>
   <polyline points="1792,171 1797,193 1799,206"/>
   <polyline points="1660,137 1668,150 1672,160"/>
  </g>
  <g stroke="#c9c7b9" stroke-width="1.2" opacity="0.6" filter="url(#blur07)">
   <polyline points="1520,455 1545,462 1570,470 1600,478"/>
   <polyline points="1530,470 1555,480 1580,488"/>
   <polyline points="1575,452 1590,468 1610,480"/>
  </g>
 </g>

 <g stroke="#4a4030" stroke-opacity="0.6" stroke-width="0.9" stroke-linejoin="round">
 <polygon fill="#e3e2ab" points="907,239 917,236 943,220 952,207 956,188 958,152 975,151 984,177 1021,160 1040,155 1041,134 1031,119 1054,109 1076,105 1075,87 1105,82 1128,70 1151,57 1160,53 1379,53 1379,67 1366,79 1373,102 1380,108 1376,137 1362,154 1339,174 1362,212 1391,229 1365,261 1414,301 1417,305 1428,355 1457,379 1505,411 1531,443 1505,457 1492,470 1475,495 1435,495 1418,484 1395,470 1378,453 1367,474 1319,453 1314,447 1314,470 1303,487 1274,507 1268,527 1264,554 1269,571 1284,594 1294,608 1318,614 1321,601 1338,608 1367,627 1375,628 1394,641 1421,651 1448,662 1468,676 1481,673 1495,688 1518,703 1535,721 1532,738 1520,758 1525,775 1525,795 1535,808 1545,795 1559,795 1575,801 1589,808 1598,814 1613,826 1630,833 1640,854 1657,862 1677,874 1686,868 1697,859 1709,854 1724,842 1731,833 1730,821 1738,818 1753,824 1774,839 1788,833 1797,836 1803,851 1812,859 1823,877 1838,886 1858,877 1864,883 1870,895 1899,900 1917,897 1917,1074 907,1074"/>
 <polygon fill="#a0050f" points="907,545 935,536 960,530 966,520 985,525 1004,540 990,540 997,547 1004,555 997,564 1001,574 1001,580 984,577 970,572 960,597 977,607 987,614 1001,617 1004,600 1001,584 1027,574 1041,570 1054,584 1068,584 1068,617 1074,627 1068,641 1066,660 1062,680 1068,700 1081,708 1101,711 1115,701 1131,715 1134,740 1128,755 1105,734 1078,718 1054,731 1044,738 1021,741 1027,761 1041,781 1054,781 1054,788 1068,795 1041,788 1021,795 1011,812 1007,822 1027,825 1034,842 1011,852 1009,873 1016,873 1022,895 1035,901 1035,923 1029,936 1031,947 1009,946 986,949 986,993 987,1023 994,1032 1020,1023 1026,1032 1046,1036 1053,1049 1061,1058 1063,1074 907,1074"/>
 <polygon fill="#e6dc8c" points="1145,96 1177,90 1192,88 1192,114 1183,125 1160,134 1145,137 1140,122"/>
 <polygon fill="#e6dc8c" points="1041,148 1085,148 1088,180 1099,212 1085,223 1062,255 1041,258 1036,235 1041,183"/>
 <polygon fill="#e6dc8c" points="1246,171 1284,191 1293,197 1333,174 1391,229 1365,261 1310,261 1287,252 1293,241"/>
 <polygon fill="#e6d470" points="1393,390 1425,358 1457,379 1505,411 1531,443 1505,457 1492,470 1475,495 1435,495 1418,484 1395,470 1378,453 1383,421"/>
 <polygon fill="#e6dc8c" points="1709,854 1724,842 1731,833 1730,821 1738,818 1753,824 1774,839 1788,833 1797,836 1803,851 1808,870 1808,938 1709,938"/>
 <polygon fill="#e6dc8c" points="1128,302 1144,296 1150,315 1163,366 1175,372 1179,391 1153,385 1122,385 1115,353 1128,347"/>
 <polygon fill="#e6dc8c" points="1052,365 1090,353 1115,355 1122,385 1100,391 1060,388"/>
 <polygon fill="#e5cd5f" points="909,312 932,309 947,293 970,293 976,309 992,305 989,331 976,340 957,362 938,350 932,353 930,378 941,385 960,397 954,422 944,422 935,410 909,397"/>
 <polygon fill="#e5cd5f" points="976,467 1001,473 1039,460 1055,473 1083,498 1118,514 1121,536 1115,553 1088,573 1068,584 1054,584 1041,570 1031,567 1021,560 1004,555 997,547 990,540 976,536 970,505"/>
 <polygon fill="#e5cd5f" points="1065,441 1087,435 1096,454 1140,486 1147,511 1121,514 1083,498 1055,473"/>
 <polygon fill="#e5cd5f" points="1118,413 1140,397 1178,397 1185,400 1188,448 1175,454 1153,441 1125,435"/>
 <polygon fill="#e5cd5f" points="1287,667 1351,661 1401,674 1384,684 1361,728 1344,734 1317,721 1290,714 1287,691"/>
 <polygon fill="#e5cd5f" points="1176,562 1216,560 1283,576 1292,618 1300,650 1300,780 1240,780 1201,741 1182,701 1182,650 1196,643 1196,600"/>
 <polygon fill="#e3e2ab" points="1192,600 1215,592 1260,640 1290,672 1280,690 1250,665 1215,640"/>
 <polygon fill="#e6dc8c" points="1127,719 1194,719 1201,741 1194,764 1127,764"/>
 <polygon fill="#e5cd5f" points="1118,584 1160,585 1195,600 1195,640 1160,641 1120,637"/>
 <polygon fill="#e5cd5f" points="1391,761 1431,714 1451,718 1458,758 1485,788 1445,798 1398,791"/>
 <polygon fill="#e6c04a" points="1560,824 1612,826 1630,833 1640,854 1633,883 1630,940 1560,940"/>
 <polygon fill="#e5cd5f" points="1135,916 1148,923 1157,923 1183,921 1205,923 1207,932 1214,936 1227,918 1240,912 1260,912 1272,886 1300,872 1310,905 1318,932 1322,949 1304,975 1285,979 1278,1001 1274,1032 1265,1036 1255,1051 1230,1060 1214,1051 1188,1032 1142,1030 1135,1005 1142,1010 1140,968 1127,966 1122,927"/>
 <polygon fill="#e6dc8c" points="1808,860 1823,877 1838,886 1858,877 1864,883 1870,895 1899,900 1917,897 1917,940 1808,940"/>
 <polygon fill="#e5b43a" points="1009,846 1120,840 1235,840 1235,885 1216,895 1140,900 1105,936 1035,925 1020,900 1009,873"/>
 <polygon fill="#e5b43a" points="1091,142 1145,140 1148,171 1174,171 1186,148 1206,142 1238,154 1249,165 1243,171 1252,189 1235,212 1243,252 1275,246 1287,252 1264,272 1246,287 1238,281 1226,278 1217,274 1192,264 1183,278 1171,295 1154,272 1142,252 1137,275 1131,313 1122,304 1102,290 1073,281 1059,295 1041,278 1047,264 1062,255 1085,223 1099,215 1093,180 1089,160"/>
 <polygon fill="#e3e2ab" points="1252,177 1284,191 1293,241 1281,246 1243,255 1235,217"/>
 <polygon fill="#e5b43a" points="1031,119 1056,111 1057,128 1056,148 1041,134"/>
 <polygon fill="#e5b43a" points="957,364 973,350 995,343 1020,337 1036,329 1033,347 1020,359 1004,369 995,378 982,385 970,386 963,375"/>
 <polygon fill="#e5b43a" points="1036,342 1047,342 1041,366 1036,378 1028,375 1031,359"/>
 <polygon fill="#e5b43a" points="974,442 982,423 995,413 1017,397 1036,396 1049,407 1061,426 1065,442 1055,448 1039,461 1020,472 1001,473 985,473 976,467"/>
 <polygon fill="#e5b43a" points="1096,393 1115,393 1118,407 1110,416 1103,407"/>
 <polygon fill="#e5b43a" points="1001,584 1027,574 1041,570 1054,584 1054,604 1034,607 1021,607 1011,620 1001,627 1004,607"/>
 <polygon fill="#e5b43a" points="1064,617 1081,600 1101,595 1115,604 1115,620 1094,624 1091,637 1074,627"/>
 <polygon fill="#e5b43a" points="1118,647 1135,641 1155,641 1171,637 1188,641 1192,654 1188,681 1168,681 1148,674 1128,671 1118,664"/>
 <polygon fill="#e5b43a" points="1054,731 1078,718 1105,734 1128,755 1121,771 1101,765 1074,755 1058,745"/>
 <polygon fill="#e5b43a" points="1054,828 1068,825 1094,825 1108,835 1105,862 1094,872 1068,875 1054,869 1051,842"/>
 <polygon fill="#e5b43a" points="1011,853 1022,849 1053,847 1061,862 1079,873 1094,868 1096,877 1090,895 1079,905 1053,899 1035,901 1022,895 1016,873 1009,873"/>
 <polygon fill="#e3a020" points="1096,862 1129,873 1153,879 1183,881 1205,878 1227,879 1216,895 1216,905 1214,936 1207,932 1205,923 1183,921 1157,923 1148,923 1140,916 1138,901 1129,877 1096,875"/>
 <polygon fill="#e5b43a" points="1215,730 1235,728 1248,745 1245,768 1220,768 1214,750"/>
 <polygon fill="#e5b43a" points="1250,760 1290,756 1300,770 1327,790 1327,840 1310,860 1297,885 1274,886 1261,877 1252,861 1250,860"/>
 <polygon fill="#e5b43a" points="1244,840 1309,840 1313,849 1300,872 1296,886 1274,886 1261,877 1252,861"/>
 <polygon fill="#e5b43a" points="1431,828 1451,822 1465,832 1468,855 1451,879 1431,879 1428,858"/>
 <polygon fill="#e5b43a" points="1363,979 1385,962 1396,960 1418,977 1422,990 1435,988 1448,1001 1435,1027 1418,1036 1407,1047 1396,1045 1370,1040 1361,1025 1365,1010"/>
 <polygon fill="#e3a020" points="1429,864 1440,853 1461,851 1470,862 1472,884 1475,905 1468,923 1451,910 1431,899 1429,890"/>
 <polygon fill="#e3880f" points="1384,815 1398,792 1443,795 1439,828 1428,859 1408,849 1394,828"/>
 <polygon fill="#e3880f" points="1560,815 1575,801 1598,814 1613,826 1600,845 1560,848"/>
 <polygon fill="#e3880f" points="1470,862 1501,873 1516,868 1540,873 1540,966 1518,971 1505,966 1485,966 1472,945 1468,932 1468,916 1475,905 1472,884"/>
 <polygon fill="#e3880f" points="1615,871 1633,871 1633,938 1615,938"/>
 <polygon fill="#e3880f" points="1178,795 1202,802 1218,805 1217,835 1202,825 1178,825 1175,808"/>
 <polygon fill="#e08a0c" points="986,949 1009,946 1031,949 1026,964 1035,975 1024,988 1037,1001 1046,990 1040,1014 1020,1023 994,1032 987,1023 986,993"/>
 <polygon fill="#e6a21c" points="909,512 925,510 938,530 937,548 933,558 909,560"/>
 <polygon fill="#e3880f" points="1200,1020 1240,1030 1250,1074 1200,1074"/>
 <polygon fill="#dc5a0a" points="1035,899 1079,905 1090,895 1096,895 1105,936 1118,934 1122,927 1127,966 1140,969 1142,1010 1135,1006 1142,1030 1188,1032 1214,1051 1223,1074 1063,1074 1061,1058 1053,1049 1046,1036 1026,1032 1020,1023 1040,1014 1046,990 1055,982 1050,953 1031,947 1029,936 1035,923"/>
 <polygon fill="#dc5a0a" points="1094,875 1129,877 1138,901 1135,916 1125,927 1105,936 1096,895"/>
 <polygon fill="#dc5a0a" points="1118,840 1233,840 1233,862 1227,879 1205,878 1183,881 1153,879 1140,871 1133,853 1118,849"/>
 <polygon fill="#dc5a0a" points="1121,771 1135,758 1148,761 1168,781 1178,795 1175,808 1178,825 1202,825 1215,842 1222,862 1235,875 1215,882 1188,875 1162,872 1141,869 1128,858 1115,842 1108,825 1131,818 1135,795"/>
 <polygon fill="#dc5a0a" points="960,597 970,572 984,577 1001,580 1004,600 1001,617 987,614 977,607"/>
 <polygon fill="#dc5a0a" points="997,564 1004,555 1021,560 1031,567 1027,574 1011,580 1001,574"/>
 <polygon fill="#dc5a0a" points="1021,741 1041,738 1051,755 1054,781 1041,781 1027,761"/>
 <polygon fill="#e0640e" points="1011,812 1021,795 1041,788 1054,791 1068,795 1064,815 1054,828 1041,832 1027,825 1014,822"/>
 <polygon fill="#dc5a0a" points="909,490 935,482 966,500 960,530 940,536 936,530 925,510 909,512"/>
 <polygon fill="#dc5a0a" points="1313,849 1322,844 1331,840 1396,840 1392,857 1394,866 1405,877 1429,895 1422,901 1405,908 1403,916 1405,932 1396,955 1385,958 1374,942 1361,942 1348,938 1335,938 1333,958 1322,949 1318,932 1313,905 1309,884 1296,886 1300,873 1315,864 1322,857"/>
 <polygon fill="#d85008" points="1392,862 1403,855 1418,857 1429,866 1435,879 1429,890 1405,877 1394,866"/>
 <polygon fill="#dc5a0a" points="1405,908 1422,899 1431,899 1451,910 1461,923 1468,932 1472,945 1483,962 1485,966 1468,979 1457,988 1448,997 1431,984 1418,971 1405,962 1396,955 1405,932 1403,916"/>
 <polygon fill="#dc5a0a" points="1407,1047 1418,1036 1435,1027 1451,1006 1470,1023 1468,1036 1466,1074 1420,1074 1418,1064 1409,1058"/>
 <polygon fill="#dc5a0a" points="1470,1023 1485,1014 1505,1023 1518,1027 1531,1074 1466,1074 1468,1036"/>
 <polygon fill="#dc5a0a" points="1630,906 1633,883 1639,859 1657,865 1677,874 1697,859 1709,854 1724,897 1741,903 1759,918 1750,935 1715,938 1630,938"/>
 <polygon fill="#dc5a0a" points="1200,840 1233,840 1233,884 1213,892 1200,884"/>
 <polygon fill="#dc5a0a" points="1595,1014 1620,1014 1615,1024 1600,1024"/>
 <polygon fill="#e3e2ab" points="1255,1051 1265,1036 1274,1032 1278,1001 1285,979 1305,975 1322,953 1335,962 1335,971 1363,979 1366,1010 1361,1025 1370,1040 1366,1074 1255,1074"/>
 <polygon fill="#e5cd5f" points="1365,1040 1407,1047 1420,1074 1365,1074"/>
 <polygon fill="#e3880f" points="1200,1036 1244,1036 1250,1074 1200,1074"/>
 <polygon fill="#e3880f" points="1518,1014 1557,1014 1557,1035 1540,1040 1530,1030"/>
 <polygon fill="#e5b43a" points="1549,1022 1614,1022 1614,1074 1531,1074 1540,1040"/>
 <polygon fill="#dc5a0a" points="1589,1055 1651,1055 1651,1074 1589,1074"/>
 <polygon fill="#e3880f" points="1602,1014 1664,1014 1664,1045 1640,1050 1614,1045"/>
 <polygon fill="#e5b43a" points="1639,1014 1689,1014 1689,1074 1651,1074 1651,1050"/>
 <polygon fill="#e6dc8c" points="1689,1014 1748,1014 1748,1074 1689,1074"/>
 <polygon fill="#e3880f" points="1714,1047 1751,1047 1751,1074 1714,1074"/>
 <polygon fill="#e3e2ab" points="1748,1014 1823,1014 1823,1074 1748,1074"/>
 <polygon fill="#e3880f" points="1820,1014 1868,1014 1868,1040 1820,1040"/>
 <polygon fill="#e5cd5f" points="1820,1040 1917,1040 1917,1074 1820,1074"/>
 <polygon fill="#e5b43a" points="1868,1014 1917,1014 1917,1040 1868,1040"/>
 <polygon fill="#c8200e" points="909,442 944,435 948,426 957,429 960,442 970,454 974,473 974,505 963,499 944,492 932,489 909,483"/>
 <polygon fill="#c8200e" points="1065,640 1074,627 1091,637 1094,624 1115,620 1131,641 1128,674 1118,688 1115,701 1101,711 1081,708 1068,700 1062,680 1066,660"/>
 <polygon fill="#c8200e" points="1044,738 1054,731 1074,755 1101,765 1121,771 1135,795 1131,818 1115,822 1088,818 1074,802 1068,795 1054,788 1051,758"/>
 <polygon fill="#c8300e" points="977,825 1007,822 1027,825 1034,842 1011,852 987,852 977,842"/>
 <polygon fill="#a0050f" points="1213,892 1220,886 1231,868 1235,862 1252,861 1261,877 1274,886 1265,892 1259,901 1252,916 1235,914 1231,918 1222,923 1220,938 1213,938 1215,921 1213,905"/>
 <polygon fill="#a0050f" points="1446,997 1457,988 1468,979 1485,966 1505,966 1518,971 1527,982 1529,1021 1505,1023 1485,1014 1470,1023 1457,1010"/>
 <polygon fill="#a0050f" points="1639,912 1648,912 1662,930 1683,935 1697,938 1659,938"/>
 <polygon fill="#5c0a20" points="935,808 944,818 954,823 970,828 980,842 979,855 957,852 940,845 937,828"/>
 <polygon fill="#e3e2ab" points="1018,905 1031,898 1037,903 1033,927 1026,938 1018,918"/>
 <polygon fill="#e3e2ab" points="1157,922 1183,921 1205,923 1209,935 1200,955 1180,960 1160,950"/>
 <polygon fill="#a0050f" points="1026,946 1051,952 1055,982 1046,990 1040,1000 1030,1000 1024,988 1034,975 1026,964"/>
 </g>
<path d="M1269.0 58.1 L1265.9 54.0 M1269.0 58.1 L1274.0 59.5 L1279.1 58.2 L1284.0 58.9 L1289.1 58.8 L1294.0 59.9 L1298.9 61.3 L1303.9 61.6 L1309.0 59.7 L1314.0 61.0 L1319.0 61.0 L1323.9 61.9 M1333.8 54.0 L1329.2 58.3 L1323.9 61.9 M1096.4 83.4 L1096.7 86.8 M1182.7 54.0 L1180.7 57.3 M1180.7 57.3 L1175.4 58.1 L1170.6 60.2 L1166.1 63.1 L1161.1 64.7 L1156.1 66.3 L1151.4 68.6 L1146.4 70.3 L1141.3 71.7 L1136.5 73.8 L1131.4 75.1 L1126.4 76.7 L1121.1 77.4 L1116.8 81.0 L1111.3 81.1 L1106.8 84.2 L1101.2 84.0 L1096.7 86.8 M1085.2 85.3 L1090.6 87.0 L1096.3 87.5 M1378.8 116.9 L1375.7 121.3 L1371.5 124.9 M1376.2 135.8 L1373.0 130.7 L1371.5 124.9 M1323.9 61.9 L1326.8 66.5 L1327.4 72.0 L1328.9 77.1 L1332.5 81.5 L1333.2 86.9 L1335.3 91.9 L1336.2 97.2 L1339.3 101.8 L1340.3 107.1 L1341.4 112.4 L1344.3 117.0 M1344.3 117.0 L1349.7 118.8 L1355.2 120.2 L1360.8 121.0 L1366.3 122.6 L1371.5 124.9 M1344.3 117.0 L1339.4 119.3 L1336.4 124.2 L1331.0 125.8 L1326.8 129.1 L1322.7 132.4 L1317.8 134.8 L1314.4 139.1 L1310.3 142.4 L1305.9 145.4 L1300.7 147.2 L1296.9 151.1 M1296.9 151.1 L1300.9 154.9 L1303.0 160.2 L1307.5 163.7 L1310.4 168.3 L1314.2 172.4 L1317.6 176.6 L1321.1 180.8 M1019.6 160.6 L1016.8 164.9 L1014.6 169.4 L1013.1 174.3 L1010.7 178.7 L1008.8 183.4 L1007.7 188.4 L1005.8 193.1 L1004.2 197.9 L1001.6 202.3 L1000.4 207.2 L997.4 211.4 M997.4 211.4 L998.5 216.4 L1001.0 220.8 L1004.0 225.0 L1004.9 230.0 M1098.7 121.1 L1097.6 115.5 L1098.8 109.8 L1097.2 104.3 L1097.9 98.6 L1096.6 93.1 L1096.3 87.5 M1098.7 121.1 L1095.2 124.8 L1092.0 128.7 L1089.5 133.3 L1086.1 137.1 L1081.5 139.8 L1078.1 143.6 L1075.4 148.0 M954.4 195.8 L959.3 197.2 L964.0 199.0 L968.8 200.6 L973.4 202.9 L978.5 203.7 L983.1 206.0 L988.1 207.2 L992.5 210.0 L997.4 211.4 M1180.7 57.3 L1181.3 62.6 L1182.5 67.8 L1183.9 72.9 L1184.0 78.3 L1184.5 83.7 L1186.5 88.7 M1191.3 114.9 L1192.5 121.9 L1193.9 128.9 M1098.7 121.1 L1103.5 123.7 L1108.4 126.1 L1113.5 128.1 L1118.5 130.4 L1123.2 133.2 L1128.3 135.2 L1133.1 137.9 L1138.0 140.3 M1145.4 143.9 L1150.9 145.6 L1156.0 148.2 L1161.0 151.0 L1165.7 154.3 L1171.1 156.4 M1193.9 128.9 L1191.0 133.2 L1187.4 136.8 L1184.1 140.7 L1181.6 145.3 L1176.8 147.9 L1173.5 151.8 L1171.1 156.4 M1269.0 58.1 L1267.6 63.2 L1266.5 68.3 L1266.9 73.7 L1266.5 78.9 L1263.8 83.8 L1263.0 88.9 L1264.0 94.4 L1262.2 99.4 L1260.7 104.5 L1259.6 109.6 L1258.8 114.8 L1258.6 120.0 M1193.9 128.9 L1198.7 127.4 L1203.9 127.8 L1209.0 128.0 L1213.8 126.3 L1218.7 124.9 L1223.9 125.7 L1228.6 123.3 L1233.6 122.8 L1238.5 121.6 L1243.5 121.3 L1248.7 121.9 L1253.6 120.8 L1258.6 120.0 M1173.7 171.0 L1171.3 163.9 L1171.1 156.4 M1296.9 151.1 L1290.7 150.6 L1284.6 149.4 L1278.5 148.4 M1258.6 120.0 L1261.5 125.0 L1265.2 129.5 L1268.0 134.6 L1271.1 139.5 L1275.7 143.4 L1278.5 148.4 M1243.6 200.3 L1247.9 200.5 M1247.9 200.5 L1250.1 205.9 L1253.5 210.6 L1257.5 214.9 L1260.3 219.9 L1262.6 225.3 L1266.0 230.0 M1278.5 148.4 L1276.1 152.8 L1273.1 156.9 L1271.5 161.8 L1268.9 166.1 L1265.8 170.1 L1263.8 174.7 L1260.7 178.7 M1256.2 186.3 L1253.5 191.1 L1251.4 196.2 L1247.9 200.5 M1441.7 369.0 L1439.7 364.7 M1914.3 940.0 L1914.7 946.0 L1913.1 951.7 L1912.6 957.6 M1917.0 979.6 L1912.2 976.0 L1908.5 971.4 L1905.0 966.6 M1912.6 957.6 L1909.5 962.8 L1905.0 966.6 M1820.0 1021.2 L1814.4 1021.7 L1808.8 1021.7 L1803.4 1023.7 L1797.7 1023.4 L1792.2 1024.4 M1792.2 1024.4 L1791.7 1034.1 M1791.7 1034.1 L1794.8 1038.2 L1798.5 1041.8 L1800.2 1047.0 L1804.6 1050.2 L1807.0 1054.8 L1809.5 1059.4 L1812.7 1063.4 L1817.3 1066.4 L1819.4 1071.2 M1817.6 1074.0 L1819.4 1071.2 M1791.7 1034.1 L1788.0 1037.8 L1785.4 1042.5 L1780.5 1045.1 L1777.2 1049.2 L1774.2 1053.5 L1770.6 1057.4 L1767.3 1061.4 L1764.1 1065.6 L1760.0 1069.0 M1764.0 1074.0 L1760.0 1069.0 M1816.7 866.6 L1812.8 865.4 M915.3 236.5 L916.3 241.8 M916.3 241.8 L908.0 244.5 M916.3 241.8 L920.7 244.9 L925.4 247.3 L930.5 249.0 L934.8 252.2 L939.9 254.0 M939.9 254.0 L937.9 258.8 L936.5 263.9 L934.2 268.6 L930.7 272.8 L928.9 277.6 L927.3 282.6 L925.8 287.6 L924.4 292.7 L922.0 297.3 L919.5 302.0 L917.7 306.9 M908.0 309.5 L912.7 307.6 L917.7 306.9 M918.3 487.1 L916.6 485.0 M933.9 437.0 L940.0 435.1 L945.4 431.8 M939.9 254.0 L945.3 251.8 L951.1 252.0 M961.0 230.0 L959.3 235.8 L957.0 241.4 L954.6 246.9 L951.1 252.0 M1422.0 328.8 L1417.3 326.6 L1413.9 322.6 L1409.3 320.4 L1406.2 316.1 L1402.4 312.7 L1398.2 309.9 L1394.2 306.8 L1389.5 304.5 L1385.1 302.0 L1381.7 298.1 M1382.7 275.5 L1382.9 281.2 L1382.3 286.8 L1382.1 292.5 L1381.7 298.1 M1274.2 230.0 L1274.0 235.5 L1273.1 240.9 L1273.0 246.4 M1271.7 265.3 L1271.4 269.5 M1271.4 269.5 L1266.7 273.4 L1261.2 275.9 L1255.9 278.8 M1484.2 819.9 L1478.9 820.9 L1473.4 820.2 L1468.1 821.3 L1462.8 822.0 L1457.5 823.4 L1452.1 822.8 M1446.8 823.3 L1439.5 823.9 M1484.2 819.9 L1484.2 813.7 L1484.5 807.6 L1485.1 801.5 M1485.1 801.5 L1481.2 797.9 L1476.8 794.9 L1473.2 791.0 M1557.7 800.5 L1560.1 806.4 L1563.9 811.3 M1557.7 800.5 L1558.3 797.1 M1558.3 797.1 L1562.2 796.2 M1873.2 1014.0 L1867.8 1009.9 M1905.0 966.6 L1902.8 966.9 M1902.8 966.9 L1899.9 971.1 L1895.9 974.4 L1894.1 979.4 L1889.8 982.4 L1886.9 986.5 L1883.7 990.4 L1880.2 994.0 L1877.0 998.0 L1874.0 1002.0 L1870.8 1005.9 L1867.8 1009.9 M1856.9 1013.1 L1862.1 1010.6 L1867.8 1009.9 M1760.0 1069.0 L1751.0 1068.0 M1902.8 966.9 L1898.2 964.3 L1893.8 961.5 L1889.4 958.6 L1885.2 955.6 L1881.5 951.8 L1876.4 949.9 L1872.9 945.8 L1868.7 942.7 L1864.2 940.0 M1792.2 1024.4 L1789.0 1019.3 L1785.8 1014.1 L1781.6 1009.6 L1779.2 1004.0 M1735.6 1014.0 L1739.9 1011.0 L1744.5 1008.8 L1749.9 1008.3 L1754.3 1005.6 L1758.8 1003.2 L1763.6 1001.3 M1779.2 1004.0 L1774.2 1002.2 L1768.7 1002.7 L1763.6 1001.3 M1714.8 1014.0 L1711.7 1010.0 L1708.7 1005.9 L1705.5 1002.0 L1701.8 998.4 L1699.3 993.9 L1696.7 989.5 L1692.3 986.4 L1690.2 981.6 M1690.2 981.6 L1690.4 979.5 M1743.5 952.8 L1745.6 957.6 L1747.8 962.4 L1749.9 967.2 L1752.0 972.0 L1753.9 976.9 L1754.8 982.2 L1757.7 986.7 L1760.0 991.4 L1762.3 996.2 L1763.6 1001.3 M1743.5 952.8 L1738.3 950.7 L1732.5 950.8 L1727.3 948.6 L1721.7 948.2 L1716.2 947.1 M1716.2 947.1 L1712.9 951.1 L1710.6 955.9 L1706.9 959.6 L1703.4 963.4 L1700.5 967.7 L1696.2 970.9 L1694.3 976.1 L1690.4 979.5 M923.4 310.1 L917.7 306.9 M951.1 252.0 L956.0 254.3 L959.7 258.3 L963.6 262.1 L968.3 264.6 L972.7 267.8 L977.6 270.0 L982.2 272.7 L986.0 276.6 L990.3 279.8 M975.0 306.5 L977.4 301.9 L979.2 297.0 L983.0 293.3 L984.9 288.5 L988.6 284.7 L990.3 279.8 M949.2 426.4 L953.3 422.0 M954.2 421.1 L958.7 417.7 L962.1 413.4 L965.1 408.8 L969.6 405.5 L972.9 401.2 L976.6 397.1 L980.2 393.0 L984.2 389.4 M947.4 427.4 L943.1 424.3 L940.1 420.0 L936.8 416.1 L934.7 411.1 L930.6 407.8 M941.4 361.8 L936.4 364.6 L930.9 366.6 M941.4 361.8 L946.0 364.3 L950.5 366.9 L954.4 370.4 L959.6 372.0 L963.4 375.7 M978.7 385.3 L984.2 388.7 M943.4 353.4 L941.4 361.8 M990.5 344.4 L987.1 339.3 L981.9 335.9 M989.0 381.2 L984.2 388.7 M1006.8 272.6 L1007.2 267.3 L1007.7 261.9 L1008.4 256.6 L1008.8 251.2 L1010.4 246.0 L1010.4 240.6 L1012.9 235.5 L1012.7 230.0 M1006.8 272.6 L1012.0 271.0 L1017.3 269.8 L1022.6 268.2 L1027.9 267.2 L1033.4 266.5 L1038.6 265.1 L1044.2 265.0 L1049.2 262.7 M990.3 279.8 L995.8 280.1 L1001.1 278.7 M1001.1 278.7 L1006.8 272.6 M1370.5 265.5 L1364.9 264.7 L1359.4 263.7 L1353.6 264.9 L1348.1 264.3 L1342.5 263.3 L1337.0 262.7 L1331.4 262.0 L1325.8 261.6 M1271.4 269.5 L1276.5 271.3 L1281.9 270.9 L1287.2 271.2 L1292.4 272.6 L1297.8 272.6 L1302.7 275.7 L1308.0 275.8 L1313.3 276.3 M1313.3 276.3 L1316.6 270.7 L1322.4 267.2 L1325.8 261.6 M1313.3 276.3 L1315.1 281.5 L1315.6 286.9 L1315.2 292.5 L1318.2 297.4 L1317.9 302.9 L1319.9 308.0 L1320.5 313.4 L1321.1 318.8 M1321.1 318.8 L1315.8 320.1 L1310.1 319.7 L1304.7 320.3 L1299.5 322.7 L1294.2 324.2 L1288.7 324.9 L1283.2 325.3 L1277.7 325.8 L1272.3 326.7 M1272.3 326.7 L1268.8 322.5 L1267.5 317.1 L1264.7 312.6 L1261.6 308.2 L1258.1 304.0 L1256.8 298.7 L1254.7 293.7 L1250.6 289.9 L1248.4 285.0 M1146.3 259.2 L1142.7 263.2 L1138.8 266.8 M1188.2 269.9 L1189.5 277.0 L1191.6 284.0 M1134.3 292.2 L1139.2 293.6 L1143.7 296.1 M1144.1 296.2 L1149.8 298.0 L1155.2 300.7 L1160.9 302.5 L1166.2 305.3 L1171.7 307.6 M1171.7 307.6 L1174.5 303.2 L1178.2 299.6 L1181.9 296.0 L1184.2 291.2 L1187.8 287.5 L1191.6 284.0 M1244.3 285.8 L1239.9 288.4 L1235.3 290.5 M1235.3 290.5 L1230.0 288.9 L1224.2 289.8 L1218.9 288.3 L1213.3 287.9 L1208.0 286.1 L1202.4 286.0 L1197.2 283.8 L1191.6 284.0 M1128.0 343.0 L1127.3 337.8 L1124.5 333.4 L1122.0 328.9 L1120.2 324.2 L1118.4 319.4 L1117.1 314.5 L1115.6 309.6 M1161.0 358.2 L1162.9 353.4 L1166.8 349.6 L1167.9 344.4 L1171.3 340.4 L1173.7 335.9 L1175.2 330.9 L1177.6 326.3 M1177.6 326.3 L1176.5 319.8 L1173.9 313.8 L1171.7 307.6 M1115.6 309.6 L1119.7 302.4 M1177.6 326.3 L1182.9 328.2 L1188.5 328.1 L1193.9 329.7 L1199.3 331.0 L1204.8 331.6 L1210.5 331.1 L1215.8 333.1 M1215.8 333.1 L1217.6 328.1 L1219.7 323.4 L1221.7 318.6 L1225.4 314.6 L1226.3 309.3 L1228.1 304.4 L1230.3 299.7 L1233.0 295.2 L1235.3 290.5 M1318.7 953.7 L1319.5 958.7 L1321.6 963.4 L1321.5 968.6 L1323.2 973.3 M1364.9 942.0 L1364.5 947.8 L1362.2 953.2 L1361.2 958.8 L1362.0 964.8 L1360.4 970.4 L1359.1 976.0 M1359.1 976.0 L1353.9 976.2 L1348.9 974.2 L1343.7 975.7 L1338.6 974.1 L1333.5 974.0 L1328.4 973.5 L1323.2 973.3 M1359.1 976.0 L1363.1 979.9 M1415.0 968.9 L1412.4 972.7 M1445.7 1012.9 L1442.1 1012.9 M1487.5 690.7 L1486.8 696.0 L1487.2 701.3 L1487.4 706.6 L1488.0 711.9 L1486.1 717.1 L1486.6 722.4 L1485.3 727.6 L1485.2 732.9 L1486.0 738.2 M1487.5 690.7 L1483.2 685.6 M1483.2 685.6 L1477.7 683.9 L1471.8 684.3 L1466.4 681.6 L1460.4 682.5 L1454.9 680.7 M1486.0 738.2 L1480.9 739.7 L1476.1 742.0 L1471.3 744.4 L1466.1 745.9 L1461.3 748.1 L1456.8 751.1 M1422.2 724.4 L1419.3 721.9 M1454.9 680.7 L1452.1 685.2 L1447.3 687.7 L1444.2 691.8 L1441.3 696.1 L1438.0 700.1 L1433.4 702.8 L1430.2 706.8 L1426.5 710.3 L1422.6 713.8 L1419.6 717.9 M1419.3 721.9 L1419.6 717.9 M1478.6 865.1 L1479.8 859.5 L1480.7 854.0 L1482.3 848.6 L1483.5 843.0 L1486.2 837.9 L1486.9 832.3 L1488.2 826.8 M1488.2 826.8 L1493.7 827.3 L1498.9 829.1 L1504.5 828.6 L1509.5 831.8 L1515.1 831.3 L1520.2 833.9 L1525.8 833.7 M1525.8 833.7 L1528.1 838.6 L1531.2 843.0 L1532.7 848.2 L1534.8 853.2 L1537.4 857.8 M1529.8 870.9 L1533.0 866.9 L1534.7 862.1 L1537.4 857.8 M1484.2 819.9 L1488.2 826.8 M1557.7 800.5 L1554.4 804.4 L1551.1 808.3 L1547.9 812.3 L1544.0 815.8 L1540.0 818.9 L1535.6 821.9 L1533.3 826.8 L1529.9 830.6 L1525.8 833.7 M1560.0 860.3 L1554.4 859.0 L1548.8 858.3 L1543.0 858.6 L1537.4 857.8 M1560.0 901.8 L1556.7 905.7 L1551.5 907.1 L1547.4 910.0 L1544.0 913.9 L1540.0 916.9 M1485.1 801.5 L1489.3 797.6 L1494.0 794.0 L1497.9 789.8 L1501.0 784.9 L1505.6 781.4 L1509.2 776.8 M1558.3 797.0 L1553.4 795.0 M1525.0 783.3 L1520.2 780.1 L1514.9 778.0 L1509.2 776.8 M1486.0 738.2 L1491.1 740.9 L1494.9 745.2 L1499.4 748.7 L1504.6 751.2 L1508.8 755.0 M1509.2 776.8 L1509.9 771.4 L1507.8 766.0 L1508.3 760.5 L1508.8 755.0 M1487.5 690.7 L1493.7 692.8 L1500.2 693.8 L1506.5 695.5 M1508.8 755.0 L1512.6 751.4 L1517.5 749.5 L1521.9 746.9 L1526.1 744.0 L1530.3 740.9 M1483.2 685.6 L1486.9 679.4 M1558.3 797.0 L1558.3 795.0 M1842.2 940.0 L1839.4 944.3 L1835.8 948.1 L1833.0 952.5 L1830.4 957.0 L1827.9 961.5 L1824.9 965.7 M1824.9 965.7 L1819.3 965.8 L1814.1 967.1 L1809.0 968.9 L1803.8 970.6 M1803.8 970.6 L1800.1 967.0 L1797.0 962.7 L1793.9 958.6 L1791.7 953.7 L1786.9 950.8 L1783.8 946.6 L1780.8 942.4 L1777.9 938.0 M1856.9 1013.1 L1853.3 1009.3 L1851.4 1004.3 L1847.5 1000.7 L1844.7 996.2 L1842.7 991.3 L1839.3 987.4 L1836.5 983.0 L1833.5 978.7 L1831.1 974.0 L1826.9 970.6 L1824.9 965.7 M1779.2 1004.0 L1783.3 1000.5 L1785.0 995.3 L1788.7 991.7 L1791.5 987.3 L1793.7 982.5 L1797.2 978.6 L1800.8 974.8 L1803.8 970.6 M1743.5 952.8 L1748.6 950.7 L1752.1 946.2 L1756.7 943.5 L1762.0 941.6 L1766.0 938.0 M1713.9 938.0 L1716.2 947.1 M1644.5 860.8 L1651.4 861.4 L1658.3 862.8 M1598.7 940.0 L1596.7 949.2 M1596.7 949.2 L1601.2 952.0 L1603.8 956.9 L1608.2 959.8 L1612.2 963.2 M1612.2 963.2 L1617.5 961.6 L1621.8 957.8 L1626.8 955.5 L1631.6 952.9 L1637.3 952.1 L1641.4 948.0 L1647.1 947.3 L1651.8 944.3 M1651.8 944.3 L1653.1 938.0 M1639.9 854.3 L1643.2 860.4 M1651.8 944.3 L1655.2 948.3 L1658.8 952.1 L1663.6 954.6 L1666.5 959.2 L1670.5 962.6 L1675.1 965.3 L1679.1 968.7 L1682.4 972.8 L1687.0 975.5 L1690.4 979.5 M1596.7 949.2 L1591.4 950.1 L1586.1 950.1 L1580.9 950.7 L1575.6 949.9 M1540.0 921.1 L1544.5 923.8 L1547.7 928.0 L1551.5 931.5 L1556.5 933.5 L1560.0 937.3 M1563.3 940.0 L1567.2 943.5 L1572.1 945.9 L1575.6 949.9 M1607.5 1014.0 L1605.0 1009.6 L1602.5 1005.3 M1656.4 1014.0 L1658.3 1007.3 L1658.4 1000.4 M1658.4 1000.4 L1653.2 999.5 L1649.1 996.0 L1644.3 994.0 L1638.8 994.1 L1634.1 992.0 L1629.7 989.1 L1624.5 988.6 L1619.8 986.4 L1615.1 984.3 M1602.5 1005.3 L1606.2 1000.3 L1608.2 994.4 L1612.5 989.9 L1615.1 984.3 M1614.0 1051.3 L1617.5 1045.7 M1690.2 981.6 L1685.4 984.0 L1681.0 986.8 L1676.2 989.1 L1672.1 992.5 L1666.9 994.0 L1662.4 996.8 L1658.4 1000.4 M1612.2 963.2 L1613.3 968.4 L1614.4 973.6 L1613.5 979.1 L1615.1 984.3 M1001.2 581.3 L1003.7 575.6 M963.5 446.2 L969.2 446.3 L974.5 448.3 M984.2 389.4 L988.2 392.7 L991.7 396.6 L995.9 399.6 L999.5 403.4 L1003.3 406.9 M1399.2 857.4 L1403.0 852.5 L1407.2 847.8 M1454.9 680.7 L1453.0 675.3 L1448.9 671.0 L1448.1 665.1 L1444.5 660.6 M1424.4 652.4 L1419.0 652.5 L1413.6 653.4 L1408.2 652.5 L1402.8 653.3 L1397.4 653.1 L1392.0 654.2 M1419.6 717.9 L1416.1 713.8 L1411.5 710.8 L1407.6 707.1 L1403.8 703.2 L1399.4 700.0 L1395.1 696.9 L1390.7 693.8 L1387.1 689.6 L1382.7 686.5 M1392.0 654.2 L1389.5 659.4 L1387.9 665.0 L1384.2 669.6 M1292.0 977.5 L1297.0 981.1 L1302.7 983.4 L1308.4 985.7 M1323.2 973.3 L1318.8 978.1 L1312.6 980.7 L1308.4 985.7 M1044.8 369.1 L1040.7 366.7 M1030.7 360.9 L1022.9 356.3 M1044.8 369.1 L1052.1 365.3 M1053.5 364.5 L1058.7 362.6 L1062.8 358.5 L1068.4 357.4 L1073.2 354.8 L1077.8 351.7 M1023.6 335.2 L1026.0 329.2 L1029.1 323.5 L1030.6 317.2 M1030.6 317.2 L1035.7 315.8 L1041.2 316.1 L1046.3 314.2 L1051.7 314.0 L1057.0 313.7 L1062.2 312.1 M1077.8 351.7 L1077.6 346.0 L1077.2 340.3 L1076.7 334.6 L1077.5 328.9 L1077.8 323.2 M1062.2 312.1 L1067.9 315.1 L1072.8 319.1 L1077.8 323.2 M1053.4 412.4 L1052.5 407.0 L1052.4 401.4 L1050.1 396.2 L1049.7 390.7 L1048.0 385.4 L1047.3 379.9 L1045.1 374.7 L1044.8 369.1 M1001.1 278.7 L1003.4 283.7 L1008.6 286.5 L1009.9 292.3 L1014.8 295.4 L1017.6 300.0 L1020.5 304.6 L1023.4 309.1 L1027.6 312.7 L1030.6 317.2 M1064.6 289.4 L1063.3 295.0 L1063.1 300.7 L1063.7 306.5 L1062.2 312.1 M1082.1 355.5 L1077.8 351.7 M1115.6 309.6 L1110.9 311.5 L1106.2 313.3 L1101.7 315.5 L1096.3 315.3 L1092.2 318.7 L1087.2 319.9 L1082.6 321.8 L1077.8 323.2 M1305.0 1005.1 L1307.1 1009.8 L1311.7 1012.7 L1314.0 1017.3 L1316.8 1021.6 L1320.1 1025.4 L1322.7 1029.8 L1327.1 1032.8 L1329.6 1037.3 L1332.2 1041.7 M1305.0 1005.1 L1299.8 1006.6 L1294.9 1008.8 L1290.8 1012.8 L1285.2 1013.4 L1281.0 1017.2 L1275.7 1018.6 M1260.6 1042.5 L1259.3 1046.8 M1332.2 1041.7 L1330.0 1047.7 L1327.8 1053.7 L1327.3 1060.1 M1261.0 1052.2 L1265.9 1054.1 L1271.1 1054.6 L1276.4 1054.1 L1281.4 1055.6 L1286.5 1056.2 L1291.7 1056.3 L1296.4 1059.3 L1301.7 1059.4 L1306.6 1061.1 L1311.7 1062.1 L1317.0 1061.6 L1322.0 1062.7 M1261.0 1052.2 L1259.3 1046.8 M1327.3 1060.1 L1322.0 1062.7 M1361.6 1022.7 L1357.4 1025.4 L1352.9 1027.7 L1348.8 1030.6 L1344.2 1032.6 L1340.4 1036.0 L1336.0 1038.4 L1332.2 1041.7 M1308.4 985.7 L1306.6 992.1 L1307.0 998.8 L1305.0 1005.1 M1343.5 1074.0 L1340.1 1069.8 L1334.9 1067.6 L1330.8 1064.3 L1327.3 1060.1 M1316.1 1074.0 L1319.9 1068.8 L1322.0 1062.7 M1253.4 1074.0 L1254.3 1068.2 L1256.5 1062.8 L1259.5 1057.7 L1261.0 1052.2 M1456.7 914.4 L1456.0 916.5 M1527.1 984.2 L1532.1 984.5 L1537.1 983.7 L1542.1 982.9 L1547.1 982.9 L1552.2 983.9 M1522.8 1021.5 L1524.0 1027.1 L1523.9 1032.7 L1523.5 1038.3 M1552.2 983.9 L1555.5 988.1 L1558.0 992.9 L1562.3 996.3 L1565.3 1000.7 L1568.6 1004.9 L1571.1 1009.7 L1575.2 1013.3 M1523.5 1038.3 L1529.5 1037.2 L1535.3 1035.3 M1570.5 1022.0 L1575.2 1013.3 M1575.6 949.9 L1573.0 954.4 L1570.2 958.7 L1566.7 962.6 L1563.4 966.6 L1561.0 971.2 L1557.2 974.8 L1554.9 979.5 L1552.2 983.9 M1521.8 1040.6 L1523.5 1038.3 M1602.5 1005.3 L1597.1 1006.9 L1591.5 1008.2 L1585.9 1009.4 L1580.6 1011.5 L1575.2 1013.3 M1422.0 328.8 L1417.5 331.5 L1414.3 335.7 L1411.2 339.9 L1406.9 342.7 L1402.4 345.5 L1399.9 350.3 L1394.9 352.4 L1391.8 356.7 L1388.1 360.3 L1384.6 364.1 L1380.5 367.2 L1376.6 370.6 M1393.6 389.4 L1387.8 387.5 M1376.6 370.6 L1379.8 374.5 L1383.2 378.4 L1384.5 383.6 L1387.8 387.5 M1378.6 449.1 L1374.9 445.2 L1372.3 440.5 L1369.2 436.1 L1366.2 431.6 M1387.8 387.5 L1386.2 392.8 L1382.1 396.8 L1380.0 401.9 L1378.7 407.4 L1375.6 411.9 L1372.7 416.5 L1371.8 422.2 L1368.3 426.6 L1366.2 431.6 M1095.4 390.7 L1093.6 396.6 L1093.1 402.7 L1091.6 408.7 L1091.4 414.9 M1053.4 412.4 L1058.3 415.9 L1063.9 418.0 M1063.9 418.0 L1069.5 418.2 L1075.0 417.5 L1080.3 415.3 L1085.9 416.0 L1091.4 414.9 M1419.3 721.9 L1415.8 726.5 L1412.5 731.2 L1408.0 734.8 L1404.0 738.9 M1403.6 746.2 L1404.0 738.9 M1392.0 654.2 L1390.7 648.5 L1387.2 643.8 L1386.0 638.1 L1382.7 633.3 M1140.1 639.0 L1143.7 641.0 M1141.3 687.8 L1144.0 680.9 L1145.8 673.7 M1141.3 687.8 L1135.1 685.9 L1129.5 682.7 L1123.6 680.1 M1127.9 712.3 L1132.1 708.3 L1137.5 705.7 L1141.5 701.4 L1145.8 697.5 M1145.8 697.5 L1142.8 693.0 L1141.3 687.8 M1068.0 595.0 L1070.4 589.7 L1073.7 584.8 M1072.0 581.8 L1073.7 584.8 M1073.7 584.8 L1079.2 585.8 L1084.8 584.3 L1090.4 584.8 L1095.9 585.1 L1101.5 585.3 L1107.0 585.1 L1112.5 587.0 L1118.1 586.7 M1242.7 804.0 L1237.2 803.8 L1231.7 803.1 L1226.2 803.6 L1220.8 801.7 L1215.3 801.9 L1209.8 801.2 M1242.7 804.0 L1245.2 809.1 L1249.4 812.9 M1208.9 803.3 L1209.8 801.2 M1235.0 860.3 L1238.2 861.2 M1249.4 812.9 L1247.3 818.1 L1247.9 823.9 L1245.0 828.8 L1245.4 834.6 L1242.8 839.6 L1241.3 845.0 L1241.3 850.6 L1239.3 855.8 L1238.2 861.2 M1381.7 298.1 L1377.1 300.5 L1373.8 304.3 L1371.0 308.8 L1366.3 310.9 L1363.1 314.9 L1358.6 317.4 L1354.9 320.7 L1351.1 323.9 L1347.6 327.5 M1376.6 370.6 L1374.2 369.5 M1374.2 369.5 L1370.8 365.2 L1367.5 360.7 L1366.1 355.1 L1363.0 350.5 L1358.6 346.7 L1357.2 341.1 L1354.1 336.5 L1349.7 332.7 L1347.6 327.5 M1321.1 318.8 L1327.6 324.7 M1327.6 324.7 L1332.7 324.6 L1337.7 325.7 L1342.4 327.9 L1347.6 327.5 M1327.7 726.2 L1330.8 730.5 M1300.0 753.8 L1304.7 750.9 L1308.8 747.2 L1312.5 742.9 L1317.5 740.4 L1322.2 737.5 L1325.7 733.0 L1330.8 730.5 M1330.8 730.5 L1338.6 731.4 M1404.0 738.9 L1398.8 738.5 L1393.5 739.7 L1388.3 737.9 L1383.1 739.1 L1377.8 737.7 L1372.6 738.1 L1367.4 738.7 L1362.1 738.1 L1356.9 739.5 L1351.6 738.5 M1346.6 733.1 L1351.6 738.5 M1145.8 697.5 L1152.7 701.0 M1182.0 694.3 L1177.3 696.1 L1172.0 695.7 L1167.3 697.5 L1162.7 699.8 L1157.3 698.7 L1152.7 701.0 M1366.2 431.6 L1360.3 431.7 L1354.7 429.5 L1348.9 428.8 L1343.2 427.5 M1374.2 369.5 L1369.6 371.9 L1364.7 373.5 L1360.3 376.2 L1356.5 379.9 L1351.1 380.6 L1347.0 384.0 L1341.9 385.2 L1337.4 387.6 L1332.7 389.7 L1328.6 392.9 M1343.2 427.5 L1340.8 422.7 L1339.9 417.3 L1337.3 412.5 L1335.6 407.4 L1332.4 402.9 L1331.3 397.5 L1328.6 392.9 M1310.1 476.0 L1306.1 471.4 M1306.1 471.4 L1307.8 464.9 L1308.3 458.1 M1343.2 427.5 L1338.5 431.1 L1335.1 435.9 L1330.4 439.5 L1326.1 443.3 L1320.7 446.0 L1316.9 450.5 M1314.0 453.1 L1308.3 458.1 M1108.7 459.8 L1107.8 454.8 L1108.5 449.7 L1108.8 444.6 L1106.5 439.7 L1106.4 434.6 L1106.6 429.6 L1106.6 424.5 M1108.7 459.8 L1106.8 461.9 M1063.9 418.0 L1062.6 423.6 L1061.8 429.2 M1058.6 445.8 L1058.7 451.2 L1057.2 456.4 L1056.5 461.6 L1055.7 466.9 L1053.7 471.9 M1091.4 414.9 L1096.6 417.9 L1101.1 422.0 L1106.6 424.5 M1120.6 537.2 L1121.4 543.1 L1123.7 548.5 L1126.2 553.9 L1127.9 559.5 L1128.9 565.3 M1118.9 520.3 L1124.6 517.1 L1129.7 513.0 M1144.7 502.9 L1149.4 500.2 L1153.7 496.9 M1128.9 565.3 L1134.0 563.9 L1138.4 560.9 L1143.9 560.7 L1148.6 558.3 L1153.4 556.4 L1158.1 553.8 L1163.0 552.1 L1168.6 552.5 L1173.5 550.5 L1177.9 547.4 L1183.0 546.2 M1153.7 496.9 L1155.5 501.9 L1158.8 506.0 L1161.1 510.7 L1164.8 514.6 L1167.6 519.0 L1168.7 524.3 L1171.5 528.8 L1175.8 532.3 L1177.6 537.2 L1180.2 541.8 L1183.0 546.2 M1121.1 584.1 L1122.9 579.3 L1125.8 575.0 L1127.1 570.0 L1128.9 565.3 M1108.7 459.8 L1113.5 462.5 L1118.4 465.0 L1122.6 468.6 L1127.6 471.0 L1133.0 472.6 L1137.5 475.8 L1142.0 478.9 L1146.9 481.5 L1152.0 483.5 L1156.7 486.3 M1156.7 486.3 L1156.1 491.9 L1153.7 496.9 M1194.6 561.1 L1191.9 555.6 L1191.5 549.6 M1191.5 549.6 L1183.0 546.2 M1111.1 832.4 L1109.2 829.1 M1156.8 486.2 L1162.0 486.7 L1167.0 486.0 L1172.1 485.4 L1177.2 485.3 L1182.2 484.3 L1187.3 483.5 L1192.4 483.6 L1197.3 481.7 L1202.5 481.9 L1207.6 481.7 L1212.6 481.1 M1191.5 549.6 L1196.2 547.1 L1199.0 542.1 L1204.5 540.4 L1207.3 535.4 L1212.0 532.8 L1216.6 530.1 L1219.7 525.4 L1223.6 521.8 L1228.4 519.3 M1212.6 481.1 L1214.0 486.2 L1215.8 491.0 L1219.2 495.2 L1219.5 500.6 L1222.4 505.0 L1223.5 510.2 L1225.7 514.9 L1228.4 519.3 M1265.6 543.4 L1263.0 538.8 L1258.1 536.3 L1254.5 532.7 L1251.4 528.6 L1248.5 524.3 M1306.1 471.4 L1300.0 472.5 L1294.0 474.1 L1287.6 474.0 L1281.7 476.1 M1281.7 476.1 L1279.0 480.6 L1276.2 485.2 L1273.2 489.6 L1270.5 494.2 L1267.5 498.6 L1263.6 502.4 L1259.7 506.2 L1257.9 511.4 L1255.3 516.0 L1251.8 520.1 L1248.5 524.3 M1106.6 424.5 L1113.8 423.4 L1120.6 421.2 M1156.8 486.2 L1158.5 481.3 L1157.4 476.1 L1159.2 471.3 L1160.1 466.3 L1159.7 461.2 L1160.9 456.3 L1162.3 451.4 L1162.0 446.3 M1152.2 397.0 L1155.3 391.8 L1157.0 385.9 M1215.8 333.1 L1219.6 337.2 L1221.4 342.5 L1224.3 347.2 L1226.5 352.3 L1229.8 356.6 M1229.8 356.6 L1226.1 360.5 L1220.9 362.2 L1217.1 365.9 L1212.6 368.7 L1208.3 371.7 L1204.4 375.2 L1199.8 377.7 L1194.8 379.7 L1191.1 383.6 M1176.6 379.6 L1183.9 381.4 L1191.1 383.6 M1353.8 795.0 L1348.4 794.0 L1343.1 796.0 L1337.7 795.3 L1332.4 795.1 L1327.0 795.5 M1353.8 795.0 L1358.3 798.1 M1358.3 798.2 L1357.1 803.4 L1356.8 808.8 L1355.9 814.1 L1353.2 819.0 L1351.8 824.2 L1352.2 829.7 L1349.3 834.6 L1349.0 840.0 M1316.2 852.7 L1321.8 857.2 M1351.6 738.5 L1352.2 743.6 L1351.4 748.8 L1352.0 753.9 L1351.4 759.1 L1352.0 764.2 L1353.3 769.3 L1353.6 774.4 L1353.3 779.6 L1354.6 784.7 L1354.8 789.8 L1353.8 795.0 M1395.4 779.8 L1390.8 782.2 L1385.7 783.5 L1381.1 785.9 L1376.3 787.9 L1372.2 791.3 L1367.4 793.1 L1363.1 796.1 L1358.3 798.1 M1397.7 833.5 L1393.0 830.8 L1390.1 826.1 L1385.5 823.4 L1382.2 819.1 L1377.5 816.4 L1374.2 812.2 L1370.4 808.5 L1365.8 805.7 L1362.9 801.0 L1358.3 798.2 M1242.7 804.0 L1245.0 799.2 L1245.9 793.8 L1248.4 789.1 L1250.0 784.0 M1306.8 894.6 L1310.3 890.8 M1202.2 790.5 L1196.4 789.8 L1190.6 789.5 L1184.9 789.2 L1179.1 788.0 L1173.3 788.4 M1202.2 790.5 L1203.3 785.5 L1204.0 780.4 L1206.1 775.5 L1205.8 770.2 L1208.2 765.4 L1207.7 760.1 L1209.2 755.1 L1210.0 750.0 M1202.5 742.5 L1200.5 742.7 M1209.8 801.2 L1205.3 796.4 L1202.2 790.5 M1152.7 701.0 L1154.8 706.8 L1155.2 713.2 L1157.4 719.0 M1123.7 764.9 L1126.2 766.2 M1248.5 524.3 L1243.3 524.0 L1238.5 521.7 L1233.3 521.0 L1228.4 519.3 M1266.1 561.3 L1260.4 565.9 L1253.9 569.0 M1331.9 662.8 L1329.7 654.6 M1329.7 654.6 L1333.5 650.6 L1335.9 645.6 L1338.9 641.1 L1341.0 636.0 L1345.3 632.2 L1347.5 627.2 L1350.1 622.4 L1353.3 618.0 M1327.6 324.7 L1325.0 329.3 L1324.7 334.7 L1322.8 339.6 L1319.9 344.0 L1317.8 348.7 L1316.2 353.7 L1313.4 358.2 L1312.3 363.3 L1310.7 368.3 L1308.4 372.9 L1306.9 377.9 L1304.6 382.6 M1328.6 392.9 L1322.8 390.6 L1316.7 389.3 L1310.9 387.0 L1305.3 384.3 M1272.3 326.7 L1269.7 331.8 L1267.5 337.1 L1265.7 342.6 L1264.4 348.2 L1261.5 353.2 L1258.8 358.3 M1304.6 382.6 L1300.0 380.1 L1295.7 377.2 L1290.4 376.1 L1286.5 372.3 L1281.7 370.3 L1277.2 367.8 L1273.0 364.7 L1268.1 362.9 L1263.7 360.1 L1258.8 358.3 M1308.3 458.1 L1306.8 453.0 L1303.7 448.9 L1302.0 444.0 L1299.1 439.8 L1295.6 435.8 L1293.3 431.2 L1291.2 426.6 L1288.9 422.0 L1286.8 417.4 M1305.3 384.3 L1303.6 389.5 L1300.0 393.7 L1296.7 398.1 L1295.0 403.4 L1291.7 407.7 L1289.3 412.6 L1286.8 417.4 M1229.8 356.6 L1235.8 358.9 L1241.9 360.6 L1247.9 362.6 M1258.8 358.3 L1253.1 360.0 L1247.9 362.6 M1061.8 817.9 L1068.1 820.9 M1068.1 820.9 L1069.8 824.5 M1073.7 801.7 L1073.3 806.8 L1071.2 811.4 L1070.5 816.4 L1068.1 820.9 M1109.2 829.1 L1103.4 829.6 L1097.9 827.8 M1074.0 825.0 L1069.8 824.5 M1215.2 475.3 L1219.8 472.3 L1224.7 469.8 L1229.6 467.2 L1234.6 465.0 L1240.2 463.9 L1244.6 460.3 L1249.6 458.2 M1215.2 475.3 L1213.1 470.1 L1210.5 465.0 L1208.9 459.6 L1208.7 453.8 L1207.0 448.4 L1204.9 443.1 L1201.2 438.5 L1200.4 432.8 M1249.6 458.2 L1250.2 452.7 L1250.2 447.1 L1250.9 441.6 L1249.4 436.1 L1249.1 430.6 L1249.7 425.0 L1250.1 419.5 M1200.4 432.8 L1203.1 427.4 L1206.4 422.4 L1210.0 417.6 M1210.0 417.6 L1215.6 417.0 L1221.2 416.7 L1226.8 416.3 L1232.3 414.4 L1237.9 413.8 L1243.5 413.9 M1250.1 419.5 L1243.5 413.9 M1212.6 481.1 L1215.2 475.3 M1281.7 476.1 L1277.1 473.5 L1272.5 471.1 L1267.6 469.0 L1263.8 465.1 L1258.5 463.8 L1254.0 461.1 L1249.6 458.2 M1187.2 434.4 L1193.7 432.8 L1200.4 432.8 M1286.8 417.4 L1281.6 418.6 L1276.2 417.3 L1271.1 419.4 L1265.8 418.6 L1260.5 417.7 L1255.3 419.2 L1250.1 419.5 M1191.1 383.6 L1193.3 388.7 L1195.9 393.6 L1198.6 398.5 L1202.4 402.7 L1204.6 407.9 L1206.3 413.3 L1210.0 417.6 M1247.9 362.6 L1248.0 367.7 L1246.0 372.7 L1247.5 378.0 L1245.4 383.0 L1244.6 388.1 L1244.8 393.3 L1245.0 398.5 L1243.8 403.6 L1243.9 408.8 L1243.5 413.9 M1301.2 642.0 L1299.5 636.5 L1297.9 631.0 L1297.0 625.3 L1296.2 619.6 L1295.9 613.8 L1294.8 608.2 M1301.2 642.0 L1298.4 643.7 M1329.7 654.6 L1325.3 651.8 L1320.6 649.5 L1315.2 648.9 L1310.5 646.7 L1305.6 645.0 L1301.2 642.0" fill="none" stroke="#3a3a2a" stroke-opacity="0.55" stroke-width="0.8"/>
<path d="M1023.1 1074.0 L1024.9 1068.9 L1027.8 1064.3 L1030.7 1059.7 L1032.7 1054.6 L1035.7 1050.1 L1037.4 1044.9 M908.0 1031.7 L913.2 1030.7 L917.4 1027.1 L922.4 1025.5 L927.2 1023.4 L932.5 1022.7 L937.0 1020.0 L942.1 1018.7 L946.9 1016.5 L952.4 1016.5 L957.2 1014.4 L962.1 1012.6 L966.6 1009.6 L971.6 1008.2 L976.2 1005.6 L981.5 1004.8 L986.3 1002.8 M1014.9 1024.8 L1019.2 1027.5 L1023.1 1030.7 L1026.8 1034.2 L1030.5 1037.6 L1034.4 1040.7 L1037.4 1044.9 M1050.3 1043.9 L1043.9 1044.5 L1037.4 1044.9 M908.0 734.8 L913.3 735.0 L918.5 735.7 L923.6 737.3 L928.5 739.7 L933.9 739.5 L939.0 740.8 L944.3 741.1 L949.3 742.9 L954.6 743.0 L959.5 745.6 L964.9 745.3 L970.0 746.9 L975.3 746.8 L980.5 747.9 L985.3 750.5 L990.6 751.2 L996.0 751.0 L1001.2 751.5 L1006.2 753.6 M1006.2 753.6 L1007.4 759.0 L1009.4 764.2 L1010.1 769.7 L1010.1 775.3 L1013.2 780.2 L1013.8 785.7 L1013.5 791.4 L1016.8 796.3 L1016.9 802.0 M908.0 826.7 L914.0 826.5 L919.9 827.7 L925.7 828.9 L931.7 829.1 L937.5 830.6 M1025.7 909.5 L1020.5 908.1 L1015.3 907.4 L1010.0 906.8 L1004.7 906.0 M999.3 852.0 L999.5 857.4 L1000.7 862.8 L999.8 868.3 L1001.2 873.6 L1002.3 878.9 L1003.2 884.3 L1002.7 889.8 L1004.7 895.1 L1003.6 900.6 L1004.7 906.0 M991.3 948.3 L992.5 943.0 L990.6 937.5 L990.9 932.1 L991.1 926.8 L992.3 921.4 M992.3 921.4 L997.1 916.8 L999.8 910.5 L1004.7 906.0 M1006.2 753.6 L1007.5 748.7 L1009.8 744.2 L1012.1 739.8 L1015.6 735.9 L1017.4 731.2 L1020.2 727.0 L1021.6 722.1 L1024.2 717.8 L1025.7 713.0 L1028.7 708.9 L1030.6 704.2 L1032.9 699.8 L1035.7 695.6 L1036.8 690.5 M1036.8 690.5 L1041.8 692.4 L1047.2 693.0 L1052.2 695.1 L1057.6 695.7 L1062.8 697.3 L1067.8 699.3 M1103.4 709.3 L1109.0 710.6 L1114.3 713.2 L1120.0 714.5 L1125.5 716.4 L1131.3 717.2 M908.0 671.4 L912.4 668.7 L915.9 664.8 L920.6 662.5 L924.0 658.5 L928.6 656.1 L932.4 652.6 L936.5 649.5 L940.3 646.1 L943.2 641.5 L947.8 639.0 M947.8 639.0 L952.6 640.8 L957.2 643.1 L961.5 645.8 L965.2 649.7 L969.4 652.6 L974.0 654.9 L979.3 655.9 L983.5 658.7 L987.4 662.3 L992.1 664.4 L997.1 665.9 L1001.3 668.8 L1005.4 672.0 L1010.3 673.5 L1014.3 676.9 L1018.2 680.4 L1022.7 682.8 L1027.2 685.2 L1031.6 687.7 L1036.5 689.5 M1036.5 689.5 L1037.7 684.6 L1041.0 680.4 L1040.8 674.9 L1044.0 670.7 L1045.4 665.9 L1046.4 660.9 L1048.6 656.3 L1051.4 652.0 L1052.6 647.1 L1054.9 642.5 L1055.5 637.4 L1057.2 632.7 L1060.3 628.4 L1060.4 623.1 L1062.5 618.5 L1064.8 613.9 L1065.4 608.8 L1068.0 604.4 M949.0 579.5 L955.1 578.2 L961.4 577.9 L967.7 577.8 M982.4 576.4 L988.7 576.7 L994.8 575.4 L1001.0 574.8 M949.0 579.5 L944.7 575.9 L942.3 570.8 L938.5 566.8 L935.7 562.0 L931.9 558.1 M947.8 639.0 L948.4 633.6 L948.4 628.2 L947.3 622.8 L947.4 617.3 L948.2 611.9 L949.4 606.6 L948.9 601.1 L948.2 595.7 L949.4 590.3 L949.5 584.9 L949.0 579.5 M1068.0 585.6 L1065.9 584.0 M992.3 921.4 L987.0 921.4 L981.7 921.5 L976.5 922.2 L971.2 920.7 L965.9 921.3 L960.7 920.4 L955.4 920.7 L950.1 921.3 L944.9 920.9 L939.6 919.9 L934.3 921.3 L929.1 919.7 L923.8 921.2 L918.5 920.8 L913.3 921.1 L908.0 920.0" fill="none" stroke="#3a0a08" stroke-opacity="0.5" stroke-width="0.8"/>
</g>
<rect x="0" y="53" width="1917" height="1021" filter="url(#grain)" opacity="0.05"/>
<rect x="906" y="53" width="2" height="1021" fill="#fff"/>
</svg>
<div class="hdr">
 <div class="brand"><span class="g">GREENGAGE</span></div>
 <div class="crumb" style="left:152px;font-weight:400;color:#444">/</div>
 <div class="crumb" style="left:170px">UrbanTEP</div>
 <div class="crumb" style="left:264px;font-weight:400;color:#444">/</div>
 <div class="crumb" style="left:283px">Explorer</div>
 <svg style="position:absolute;left:1751px;top:17px" width="18" height="18" viewBox="0 0 18 18">
  <defs><clipPath id="fc"><circle cx="9" cy="9" r="8.5"/></clipPath></defs>
  <g clip-path="url(#fc)">
   <rect width="18" height="18" fill="#26398f"/>
   <path d="M0 0 L18 18 M18 0 L0 18" stroke="#fff" stroke-width="2.6"/>
   <path d="M0 0 L18 18 M18 0 L0 18" stroke="#d52b3a" stroke-width="0.9"/>
   <path d="M9 0 V18 M0 9 H18" stroke="#fff" stroke-width="4.2"/>
   <path d="M9 0 V18 M0 9 H18" stroke="#d52b3a" stroke-width="2.4"/>
  </g>
 </svg>
 <div class="crumb" style="left:1777px;top:16px;font-size:14.2px;font-weight:700;color:#333">English</div>
 <svg style="position:absolute;left:1842px;top:21px" width="12" height="9" viewBox="0 0 12 9"><path d="M1.5 2 L6 6.5 L10.5 2" fill="none" stroke="#333" stroke-width="1.5"/></svg>
 <svg style="position:absolute;left:1873px;top:17px" width="20" height="19" viewBox="0 0 20 19" fill="none" stroke="#333" stroke-width="1.5">
  <circle cx="15.5" cy="3.5" r="2.6"/><circle cx="15.5" cy="15" r="2.6"/><circle cx="4" cy="9.2" r="2.6"/>
  <path d="M6.3 8 L13.2 4.7 M6.3 10.4 L13.2 13.8"/>
 </svg>
</div>

<div class="card" style="left:13px;top:69px;width:252px;height:57px">
 <div class="ttl" style="left:13px;top:9px;font-size:17.6px">Urban / Infrastructure</div>
 <div class="sub" style="left:13px;top:33px;font-size:13.8px">Turano / 2021</div>
 <svg class="chev" style="left:223px;top:24px" width="14" height="9" viewBox="0 0 14 9"><path d="M1.5 1.8 L7 7.2 L12.5 1.8" fill="none" stroke="#333" stroke-width="1.5"/></svg>
</div>
<div class="card" style="left:1670px;top:69px;width:231px;height:57px">
 <div class="ttl" style="left:13.5px;top:9px;font-size:17.6px">Impervious density</div>
 <div class="sub" style="left:13.5px;top:33px;font-size:13.8px">Turano / 2018</div>
 <svg class="chev" style="left:201px;top:24px" width="14" height="9" viewBox="0 0 14 9"><path d="M1.5 1.8 L7 7.2 L12.5 1.8" fill="none" stroke="#333" stroke-width="1.5"/></svg>
</div>

<div class="card" id="lcc" style="left:13px;top:139px;width:356px;height:209px">
 <div class="ttl" style="left:16px;top:17px;font-size:15.2px">Land cover composition</div>
 <div class="sub" style="left:16px;top:36px;font-size:12.2px;color:#9a9a9a">Nepi, 2021</div>
 <svg style="position:absolute;left:323px;top:21px" width="12" height="12" viewBox="0 0 12 12"><path d="M1.5 1.5 L10.5 10.5 M10.5 1.5 L1.5 10.5" stroke="#444" stroke-width="1.3"/></svg>
 <div class="row" style="top:58px"><i class="dot" style="background:#d63d10"></i><i class="inf"></i><span class="lbl">Urban / infrastructure</span><span class="val" style="right:54px">287.6 ha</span><span class="pct">3.4%</span><div class="bar"><b style="width:11px;background:#d13a12"></b></div></div>
 <div class="row" style="top:93px"><i class="dot" style="background:#2e7a45"></i><i class="inf"></i><span class="lbl">Natural vegetation</span><span class="val" style="right:61px">2584.2 ha</span><span class="pct">30.6%</span><div class="bar"><b style="width:99px;background:#2e7a45"></b></div></div>
 <div class="row" style="top:128px"><i class="dot" style="background:#9dbd55"></i><i class="inf"></i><span class="lbl">Open landscapes</span><span class="val" style="right:61px">5557.7 ha</span><span class="pct">65.9%</span><div class="bar"><b style="width:214px;background:#95b74f"></b></div></div>
 <div class="row" style="top:163px"><i class="dot" style="background:#3b8de0"></i><i class="inf"></i><span class="lbl">Water bodies</span><span class="val" style="right:54px">3.4 ha</span><span class="pct">0.0%</span><div class="bar"><b style="width:1.5px;background:#3b8de0"></b></div></div>
</div>

<div class="card legend" style="left:13px;top:938px;width:394px;height:77px">
 <div class="lt">Urban / infrastructure [%]</div>
 <div class="lbar">
  <i style="background:#feeddb"></i><i style="background:#fdd9a9"></i><i style="background:#fdc383"></i><i style="background:#fbae5a"></i><i style="background:#f99a36"></i><i style="background:#f7830f"></i><i style="background:#ea690a"></i><i style="background:#dc5005"></i><i style="background:#c93703"></i><i style="background:#a8230b"></i>
 </div>
 <div class="ll"><span style="left:0">0</span><span style="left:36.8px;transform:translateX(-50%)">2</span><span style="left:73.6px;transform:translateX(-50%)">5</span><span style="left:110.4px;transform:translateX(-50%)">10</span><span style="left:147.2px;transform:translateX(-50%)">15</span><span style="left:184.0px;transform:translateX(-50%)">20</span><span style="left:220.8px;transform:translateX(-50%)">25</span><span style="left:257.6px;transform:translateX(-50%)">30</span><span style="left:294.4px;transform:translateX(-50%)">40</span><span style="left:331.2px;transform:translateX(-50%)">50</span><span style="right:0">100</span></div>
</div>
<div class="tail" style="left:22px;top:1014px"></div>

<div class="btn green" style="left:1869px;top:988px"></div>
<div class="card legend" style="left:1518px;top:939px;width:393px;height:75px">
 <div class="lt">Imperviousness [%]</div>
 <div class="lbar">
  <i style="background:#ffffbf"></i><i style="background:#fff08a"></i><i style="background:#fee061"></i><i style="background:#fec435"></i><i style="background:#fcaa1f"></i><i style="background:#f88907"></i><i style="background:#f65403"></i><i style="background:#dc2a02"></i><i style="background:#a50402"></i><i style="background:#570016"></i>
 </div>
 <div class="ll"><span style="left:0">0</span><span style="left:36.8px;transform:translateX(-50%)">0.5</span><span style="left:73.6px;transform:translateX(-50%)">1</span><span style="left:110.4px;transform:translateX(-50%)">2</span><span style="left:147.2px;transform:translateX(-50%)">3</span><span style="left:184.0px;transform:translateX(-50%)">4</span><span style="left:220.8px;transform:translateX(-50%)">5</span><span style="left:257.6px;transform:translateX(-50%)">8</span><span style="left:294.4px;transform:translateX(-50%)">10</span><span style="left:331.2px;transform:translateX(-50%)">20</span><span style="right:0">35</span></div>
</div>
<div class="tail" style="left:1879px;top:1013px"></div>

<div class="btn green" style="left:13px;top:1029px"><svg width="32" height="32" viewBox="0 0 32 32"><circle cx="16" cy="16" r="8.2" fill="none" stroke="#fff" stroke-width="1.6"/><circle cx="16" cy="12.2" r="1.2" fill="#fff"/><rect x="14.9" y="14.6" width="2.2" height="6" rx="0.6" fill="#fff"/></svg></div>
<div class="btn white" style="left:57px;top:1029px"><svg width="32" height="32" viewBox="0 0 32 32" fill="none" stroke="#111" stroke-width="1.5" stroke-linejoin="round"><path d="M16 9 L23 12.5 L16 16 L9 12.5 Z"/><path d="M9 15.8 L16 19.3 L23 15.8"/><path d="M9 19 L16 22.5 L23 19"/></svg></div>
<div class="btn white" style="left:1826px;top:1030px"><svg width="32" height="32" viewBox="0 0 32 32" fill="none" stroke="#111" stroke-width="1.5" stroke-linejoin="round"><path d="M16 9 L23 12.5 L16 16 L9 12.5 Z"/><path d="M9 15.8 L16 19.3 L23 15.8"/><path d="M9 19 L16 22.5 L23 19"/></svg></div>
<div class="btn green" style="left:1869px;top:1029px"><svg width="32" height="32" viewBox="0 0 32 32"><circle cx="16" cy="16" r="8.2" fill="none" stroke="#fff" stroke-width="1.6"/><circle cx="16" cy="12.2" r="1.2" fill="#fff"/><rect x="14.9" y="14.6" width="2.2" height="6" rx="0.6" fill="#fff"/></svg></div>

<div class="zoom" style="left:1870px;top:867px">
 <div class="zb"><svg width="30" height="31" viewBox="0 0 30 31"><path d="M15 9 V22 M8.5 15.5 H21.5" stroke="#333" stroke-width="1.6"/></svg></div>
 <div class="zb" style="border-top:1px solid #bbb"><svg width="30" height="31" viewBox="0 0 30 31"><path d="M8.5 15.5 H21.5" stroke="#333" stroke-width="1.6"/></svg></div>
</div>

<div class="scale" style="left:101px;top:1047px;width:91px"><span>10 km</span></div>
<div class="attr" style="left:208px;top:1047px"><u>DeckGL</u>, Esri, HERE, Garmin, FAO, NOAA, USGS</div>
<div class="scale" style="left:1722px;top:1047px;width:91px"><span>10 km</span></div>
<div class="attr" style="left:1463px;top:1047px;opacity:.55"><u>DeckGL</u>, Esri, HERE, Garmin, FAO, NOAA, USGS</div>

<div class="handle"><svg width="58" height="58" viewBox="0 0 58 58"><defs><linearGradient id="hg" x1="0" y1="0.15" x2="1" y2="0.85"><stop offset="0" stop-color="#c98f50"/><stop offset="0.3" stop-color="#c2741f"/><stop offset="0.5" stop-color="#b04a12"/><stop offset="0.66" stop-color="#970f0c"/><stop offset="1" stop-color="#880808"/></linearGradient><radialGradient id="hg2" cx="0.3" cy="0.22" r="0.45"><stop offset="0" stop-color="#d6ad78" stop-opacity="0.85"/><stop offset="1" stop-color="#d6ad78" stop-opacity="0"/></radialGradient><radialGradient id="hg3" cx="0.3" cy="0.85" r="0.4"><stop offset="0" stop-color="#d0700f" stop-opacity="0.7"/><stop offset="1" stop-color="#d0700f" stop-opacity="0"/></radialGradient></defs><circle cx="29" cy="29" r="27" fill="url(#hg)"/><circle cx="29" cy="29" r="27" fill="url(#hg2)"/><circle cx="29" cy="29" r="27" fill="url(#hg3)"/><circle cx="29" cy="29" r="27" fill="none" stroke="#fff" stroke-width="2.2"/><path d="M25 22 L15.5 29 L25 36 Z M33 22 L42.5 29 L33 36 Z" fill="#fff"/></svg></div>

<div class="tip" style="left:939px;top:671px"><b>Roma:</b> 17.17 %</div>
</body></html>
